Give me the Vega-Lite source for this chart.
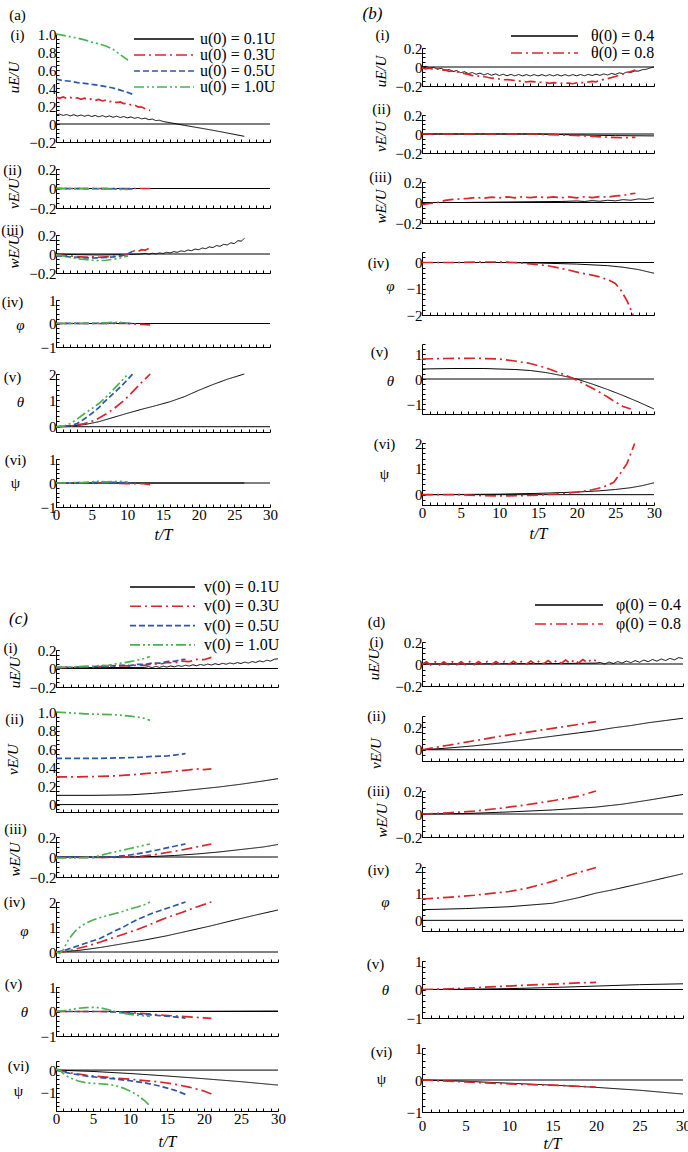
{
"$schema":"https://vega.github.io/schema/vega-lite/v6.json",
"padding":{"left":0,"top":4,"right":0,"bottom":0},
"config":{
 "font":"Liberation Serif",
 "view":{"stroke":null},
 "axis":{"grid":false,"domainColor":"black","tickColor":"black","labelColor":"black","titleColor":"black","labelFont":"Liberation Serif","titleFont":"Liberation Serif","labelFontSize":15,"titleFontSize":16,"titleFontWeight":"normal","tickSize":-3,"labelPadding":3,"labelFlush":false,"labelOverlap":false,"domainWidth":1,"tickWidth":1},
 "axisX":{"titleAngle":0,"titleAlign":"center","titleBaseline":"middle","titleFontStyle":"normal","titleFontSize":15},
 "axisY":{"titleAlign":"center","titleBaseline":"middle","titleFontStyle":"italic","titleFontSize":15},
 "legend":{"labelFont":"Liberation Serif","labelFontSize":16,"labelColor":"black","symbolType":"stroke","symbolStrokeWidth":1.6}
},
"datasets":{
"A":[
{"p":"i","s":"0.1U","t":0,"v":0.1},{"p":"i","s":"0.1U","t":0.5,"v":0.11},{"p":"i","s":"0.1U","t":1,"v":0.095},{"p":"i","s":"0.1U","t":1.5,"v":0.105},{"p":"i","s":"0.1U","t":2,"v":0.09},{"p":"i","s":"0.1U","t":2.5,"v":0.103},{"p":"i","s":"0.1U","t":3,"v":0.088},{"p":"i","s":"0.1U","t":3.5,"v":0.1},{"p":"i","s":"0.1U","t":4,"v":0.086},{"p":"i","s":"0.1U","t":4.5,"v":0.098},{"p":"i","s":"0.1U","t":5,"v":0.083},{"p":"i","s":"0.1U","t":5.5,"v":0.095},{"p":"i","s":"0.1U","t":6,"v":0.08},{"p":"i","s":"0.1U","t":6.5,"v":0.093},{"p":"i","s":"0.1U","t":7,"v":0.078},{"p":"i","s":"0.1U","t":7.5,"v":0.09},{"p":"i","s":"0.1U","t":8,"v":0.075},{"p":"i","s":"0.1U","t":8.5,"v":0.087},{"p":"i","s":"0.1U","t":9,"v":0.072},{"p":"i","s":"0.1U","t":9.5,"v":0.083},{"p":"i","s":"0.1U","t":10,"v":0.068},{"p":"i","s":"0.1U","t":10.5,"v":0.079},{"p":"i","s":"0.1U","t":11,"v":0.063},{"p":"i","s":"0.1U","t":11.5,"v":0.073},{"p":"i","s":"0.1U","t":12,"v":0.057},{"p":"i","s":"0.1U","t":12.5,"v":0.065},{"p":"i","s":"0.1U","t":13,"v":0.048},{"p":"i","s":"0.1U","t":13.5,"v":0.055},{"p":"i","s":"0.1U","t":14,"v":0.038},{"p":"i","s":"0.1U","t":14.5,"v":0.042},{"p":"i","s":"0.1U","t":15,"v":0.028},{"p":"i","s":"0.1U","t":16,"v":0.014},{"p":"i","s":"0.1U","t":17,"v":0},{"p":"i","s":"0.1U","t":18,"v":-0.015},{"p":"i","s":"0.1U","t":20,"v":-0.042},{"p":"i","s":"0.1U","t":22,"v":-0.07},{"p":"i","s":"0.1U","t":24,"v":-0.1},{"p":"i","s":"0.1U","t":26.4,"v":-0.137},
{"p":"i","s":"0.3U","t":0,"v":0.3},{"p":"i","s":"0.3U","t":0.5,"v":0.285},{"p":"i","s":"0.3U","t":1,"v":0.3},{"p":"i","s":"0.3U","t":1.5,"v":0.283},{"p":"i","s":"0.3U","t":2,"v":0.296},{"p":"i","s":"0.3U","t":2.5,"v":0.279},{"p":"i","s":"0.3U","t":3,"v":0.291},{"p":"i","s":"0.3U","t":3.5,"v":0.274},{"p":"i","s":"0.3U","t":4,"v":0.286},{"p":"i","s":"0.3U","t":4.5,"v":0.269},{"p":"i","s":"0.3U","t":5,"v":0.28},{"p":"i","s":"0.3U","t":5.5,"v":0.263},{"p":"i","s":"0.3U","t":6,"v":0.273},{"p":"i","s":"0.3U","t":6.5,"v":0.256},{"p":"i","s":"0.3U","t":7,"v":0.265},{"p":"i","s":"0.3U","t":7.5,"v":0.248},{"p":"i","s":"0.3U","t":8,"v":0.256},{"p":"i","s":"0.3U","t":8.5,"v":0.238},{"p":"i","s":"0.3U","t":9,"v":0.245},{"p":"i","s":"0.3U","t":9.5,"v":0.227},{"p":"i","s":"0.3U","t":10,"v":0.232},{"p":"i","s":"0.3U","t":10.5,"v":0.212},{"p":"i","s":"0.3U","t":11,"v":0.212},{"p":"i","s":"0.3U","t":11.5,"v":0.19},{"p":"i","s":"0.3U","t":12,"v":0.188},{"p":"i","s":"0.3U","t":12.5,"v":0.17},{"p":"i","s":"0.3U","t":13.2,"v":0.15},
{"p":"i","s":"0.5U","t":0,"v":0.5},{"p":"i","s":"0.5U","t":1,"v":0.482},{"p":"i","s":"0.5U","t":2,"v":0.475},{"p":"i","s":"0.5U","t":3,"v":0.46},{"p":"i","s":"0.5U","t":4,"v":0.452},{"p":"i","s":"0.5U","t":5,"v":0.44},{"p":"i","s":"0.5U","t":6,"v":0.43},{"p":"i","s":"0.5U","t":7,"v":0.415},{"p":"i","s":"0.5U","t":8,"v":0.4},{"p":"i","s":"0.5U","t":9,"v":0.377},{"p":"i","s":"0.5U","t":10,"v":0.352},{"p":"i","s":"0.5U","t":10.75,"v":0.33},
{"p":"i","s":"1.0U","t":0,"v":1},{"p":"i","s":"1.0U","t":1,"v":0.985},{"p":"i","s":"1.0U","t":2,"v":0.97},{"p":"i","s":"1.0U","t":3,"v":0.955},{"p":"i","s":"1.0U","t":4,"v":0.935},{"p":"i","s":"1.0U","t":5,"v":0.91},{"p":"i","s":"1.0U","t":6,"v":0.89},{"p":"i","s":"1.0U","t":7,"v":0.866},{"p":"i","s":"1.0U","t":8,"v":0.83},{"p":"i","s":"1.0U","t":9,"v":0.77},{"p":"i","s":"1.0U","t":10.1,"v":0.71},
{"p":"ii","s":"0.1U","t":0,"v":0},{"p":"ii","s":"0.1U","t":26.4,"v":0},
{"p":"ii","s":"0.3U","t":0,"v":0},{"p":"ii","s":"0.3U","t":13.2,"v":0},
{"p":"ii","s":"0.5U","t":0,"v":0},{"p":"ii","s":"0.5U","t":10.75,"v":-0.003},
{"p":"ii","s":"1.0U","t":0,"v":0},{"p":"ii","s":"1.0U","t":6,"v":-0.003},{"p":"ii","s":"1.0U","t":10.1,"v":-0.01},
{"p":"iii","s":"0.1U","t":0,"v":0},{"p":"iii","s":"0.1U","t":3,"v":-0.007},{"p":"iii","s":"0.1U","t":6,"v":-0.01},{"p":"iii","s":"0.1U","t":9,"v":-0.007},{"p":"iii","s":"0.1U","t":12,"v":0},{"p":"iii","s":"0.1U","t":12.5,"v":0.006},{"p":"iii","s":"0.1U","t":13,"v":-0.002},{"p":"iii","s":"0.1U","t":13.5,"v":0.008},{"p":"iii","s":"0.1U","t":14,"v":0.001},{"p":"iii","s":"0.1U","t":14.5,"v":0.012},{"p":"iii","s":"0.1U","t":15,"v":0.005},{"p":"iii","s":"0.1U","t":15.5,"v":0.018},{"p":"iii","s":"0.1U","t":16,"v":0.011},{"p":"iii","s":"0.1U","t":16.5,"v":0.025},{"p":"iii","s":"0.1U","t":17,"v":0.018},{"p":"iii","s":"0.1U","t":17.5,"v":0.033},{"p":"iii","s":"0.1U","t":18,"v":0.026},{"p":"iii","s":"0.1U","t":18.5,"v":0.042},{"p":"iii","s":"0.1U","t":19,"v":0.035},{"p":"iii","s":"0.1U","t":19.5,"v":0.052},{"p":"iii","s":"0.1U","t":20,"v":0.045},{"p":"iii","s":"0.1U","t":20.5,"v":0.063},{"p":"iii","s":"0.1U","t":21,"v":0.056},{"p":"iii","s":"0.1U","t":21.5,"v":0.075},{"p":"iii","s":"0.1U","t":22,"v":0.068},{"p":"iii","s":"0.1U","t":22.5,"v":0.088},{"p":"iii","s":"0.1U","t":23,"v":0.081},{"p":"iii","s":"0.1U","t":23.5,"v":0.102},{"p":"iii","s":"0.1U","t":24,"v":0.095},{"p":"iii","s":"0.1U","t":24.5,"v":0.117},{"p":"iii","s":"0.1U","t":25,"v":0.11},{"p":"iii","s":"0.1U","t":25.5,"v":0.14},{"p":"iii","s":"0.1U","t":26,"v":0.135},{"p":"iii","s":"0.1U","t":26.4,"v":0.165},
{"p":"iii","s":"0.3U","t":0,"v":-0.01},{"p":"iii","s":"0.3U","t":1,"v":-0.015},{"p":"iii","s":"0.3U","t":2,"v":-0.02},{"p":"iii","s":"0.3U","t":3,"v":-0.028},{"p":"iii","s":"0.3U","t":4,"v":-0.033},{"p":"iii","s":"0.3U","t":5,"v":-0.03},{"p":"iii","s":"0.3U","t":6,"v":-0.034},{"p":"iii","s":"0.3U","t":7,"v":-0.03},{"p":"iii","s":"0.3U","t":8,"v":-0.026},{"p":"iii","s":"0.3U","t":9,"v":-0.02},{"p":"iii","s":"0.3U","t":10,"v":-0.005},{"p":"iii","s":"0.3U","t":10.5,"v":0.01},{"p":"iii","s":"0.3U","t":11,"v":0.035},{"p":"iii","s":"0.3U","t":11.5,"v":0.025},{"p":"iii","s":"0.3U","t":12,"v":0.045},{"p":"iii","s":"0.3U","t":12.5,"v":0.04},{"p":"iii","s":"0.3U","t":13.2,"v":0.065},
{"p":"iii","s":"0.5U","t":0,"v":-0.02},{"p":"iii","s":"0.5U","t":1,"v":-0.022},{"p":"iii","s":"0.5U","t":2,"v":-0.03},{"p":"iii","s":"0.5U","t":3,"v":-0.036},{"p":"iii","s":"0.5U","t":4,"v":-0.04},{"p":"iii","s":"0.5U","t":5,"v":-0.042},{"p":"iii","s":"0.5U","t":6,"v":-0.04},{"p":"iii","s":"0.5U","t":7,"v":-0.037},{"p":"iii","s":"0.5U","t":8,"v":-0.03},{"p":"iii","s":"0.5U","t":9,"v":-0.02},{"p":"iii","s":"0.5U","t":10,"v":0},{"p":"iii","s":"0.5U","t":10.75,"v":0.03},
{"p":"iii","s":"1.0U","t":0,"v":-0.01},{"p":"iii","s":"1.0U","t":1,"v":-0.02},{"p":"iii","s":"1.0U","t":2,"v":-0.035},{"p":"iii","s":"1.0U","t":3,"v":-0.05},{"p":"iii","s":"1.0U","t":4,"v":-0.058},{"p":"iii","s":"1.0U","t":5,"v":-0.065},{"p":"iii","s":"1.0U","t":6,"v":-0.07},{"p":"iii","s":"1.0U","t":7,"v":-0.066},{"p":"iii","s":"1.0U","t":8,"v":-0.056},{"p":"iii","s":"1.0U","t":9,"v":-0.042},{"p":"iii","s":"1.0U","t":10.1,"v":-0.02},
{"p":"iv","s":"0.1U","t":0,"v":0},{"p":"iv","s":"0.1U","t":26.4,"v":0},
{"p":"iv","s":"0.3U","t":0,"v":0},{"p":"iv","s":"0.3U","t":10,"v":0},{"p":"iv","s":"0.3U","t":11,"v":-0.02},{"p":"iv","s":"0.3U","t":12,"v":-0.04},{"p":"iv","s":"0.3U","t":13.2,"v":-0.06},
{"p":"iv","s":"0.5U","t":0,"v":0},{"p":"iv","s":"0.5U","t":8,"v":0.01},{"p":"iv","s":"0.5U","t":9,"v":0.02},{"p":"iv","s":"0.5U","t":10.75,"v":0},
{"p":"iv","s":"1.0U","t":0,"v":0},{"p":"iv","s":"1.0U","t":5,"v":0.01},{"p":"iv","s":"1.0U","t":7,"v":0.03},{"p":"iv","s":"1.0U","t":8,"v":0.05},{"p":"iv","s":"1.0U","t":9,"v":0.05},{"p":"iv","s":"1.0U","t":10.1,"v":0.02},
{"p":"v","s":"0.1U","t":0,"v":0},{"p":"v","s":"0.1U","t":2,"v":0.02},{"p":"v","s":"0.1U","t":4,"v":0.08},{"p":"v","s":"0.1U","t":6,"v":0.19},{"p":"v","s":"0.1U","t":8,"v":0.35},{"p":"v","s":"0.1U","t":10,"v":0.51},{"p":"v","s":"0.1U","t":12,"v":0.66},{"p":"v","s":"0.1U","t":14,"v":0.8},{"p":"v","s":"0.1U","t":16,"v":0.95},{"p":"v","s":"0.1U","t":18,"v":1.14},{"p":"v","s":"0.1U","t":20,"v":1.38},{"p":"v","s":"0.1U","t":22,"v":1.6},{"p":"v","s":"0.1U","t":24,"v":1.8},{"p":"v","s":"0.1U","t":26.4,"v":2},
{"p":"v","s":"0.3U","t":0,"v":0},{"p":"v","s":"0.3U","t":2,"v":0.02},{"p":"v","s":"0.3U","t":4,"v":0.12},{"p":"v","s":"0.3U","t":5.5,"v":0.25},{"p":"v","s":"0.3U","t":7,"v":0.48},{"p":"v","s":"0.3U","t":8,"v":0.66},{"p":"v","s":"0.3U","t":9.2,"v":0.92},{"p":"v","s":"0.3U","t":10,"v":1.12},{"p":"v","s":"0.3U","t":11,"v":1.4},{"p":"v","s":"0.3U","t":12,"v":1.68},{"p":"v","s":"0.3U","t":13.2,"v":2},
{"p":"v","s":"0.5U","t":0,"v":0},{"p":"v","s":"0.5U","t":2,"v":0.04},{"p":"v","s":"0.5U","t":3,"v":0.12},{"p":"v","s":"0.5U","t":4,"v":0.3},{"p":"v","s":"0.5U","t":5,"v":0.5},{"p":"v","s":"0.5U","t":6,"v":0.72},{"p":"v","s":"0.5U","t":6.7,"v":0.92},{"p":"v","s":"0.5U","t":8,"v":1.25},{"p":"v","s":"0.5U","t":9,"v":1.5},{"p":"v","s":"0.5U","t":10,"v":1.78},{"p":"v","s":"0.5U","t":10.75,"v":2},
{"p":"v","s":"1.0U","t":0,"v":0},{"p":"v","s":"1.0U","t":1,"v":0.02},{"p":"v","s":"1.0U","t":2,"v":0.12},{"p":"v","s":"1.0U","t":3,"v":0.3},{"p":"v","s":"1.0U","t":4,"v":0.5},{"p":"v","s":"1.0U","t":5,"v":0.68},{"p":"v","s":"1.0U","t":6,"v":0.88},{"p":"v","s":"1.0U","t":7,"v":1.12},{"p":"v","s":"1.0U","t":8,"v":1.4},{"p":"v","s":"1.0U","t":9,"v":1.68},{"p":"v","s":"1.0U","t":10.1,"v":2},
{"p":"vi","s":"0.1U","t":0,"v":0},{"p":"vi","s":"0.1U","t":26.4,"v":0},
{"p":"vi","s":"0.3U","t":0,"v":0},{"p":"vi","s":"0.3U","t":5,"v":0},{"p":"vi","s":"0.3U","t":8,"v":-0.01},{"p":"vi","s":"0.3U","t":10,"v":-0.03},{"p":"vi","s":"0.3U","t":11,"v":-0.03},{"p":"vi","s":"0.3U","t":12,"v":-0.02},{"p":"vi","s":"0.3U","t":13.2,"v":-0.07},
{"p":"vi","s":"0.5U","t":0,"v":0},{"p":"vi","s":"0.5U","t":5,"v":0.02},{"p":"vi","s":"0.5U","t":8,"v":0.03},{"p":"vi","s":"0.5U","t":10,"v":0.01},{"p":"vi","s":"0.5U","t":10.75,"v":-0.02},
{"p":"vi","s":"1.0U","t":0,"v":0},{"p":"vi","s":"1.0U","t":4,"v":0.02},{"p":"vi","s":"1.0U","t":5,"v":0.05},{"p":"vi","s":"1.0U","t":6,"v":0.07},{"p":"vi","s":"1.0U","t":7,"v":0.05},{"p":"vi","s":"1.0U","t":8,"v":0.06},{"p":"vi","s":"1.0U","t":9,"v":0.07},{"p":"vi","s":"1.0U","t":10.1,"v":0.04}
],
"B":[
{"p":"i","s":"0.4","t":0,"v":0},{"p":"i","s":"0.4","t":0.5,"v":0.006},{"p":"i","s":"0.4","t":1,"v":-0.01},{"p":"i","s":"0.4","t":1.5,"v":-0.004},{"p":"i","s":"0.4","t":2,"v":-0.022},{"p":"i","s":"0.4","t":2.5,"v":-0.014},{"p":"i","s":"0.4","t":3,"v":-0.035},{"p":"i","s":"0.4","t":3.5,"v":-0.026},{"p":"i","s":"0.4","t":4,"v":-0.048},{"p":"i","s":"0.4","t":4.5,"v":-0.038},{"p":"i","s":"0.4","t":5,"v":-0.06},{"p":"i","s":"0.4","t":5.5,"v":-0.049},{"p":"i","s":"0.4","t":6,"v":-0.07},{"p":"i","s":"0.4","t":6.5,"v":-0.058},{"p":"i","s":"0.4","t":7,"v":-0.077},{"p":"i","s":"0.4","t":7.5,"v":-0.064},{"p":"i","s":"0.4","t":8,"v":-0.083},{"p":"i","s":"0.4","t":8.5,"v":-0.069},{"p":"i","s":"0.4","t":9,"v":-0.087},{"p":"i","s":"0.4","t":9.5,"v":-0.073},{"p":"i","s":"0.4","t":10,"v":-0.09},{"p":"i","s":"0.4","t":10.5,"v":-0.076},{"p":"i","s":"0.4","t":11,"v":-0.092},{"p":"i","s":"0.4","t":11.5,"v":-0.078},{"p":"i","s":"0.4","t":12,"v":-0.093},{"p":"i","s":"0.4","t":12.5,"v":-0.079},{"p":"i","s":"0.4","t":13,"v":-0.094},{"p":"i","s":"0.4","t":13.5,"v":-0.08},{"p":"i","s":"0.4","t":14,"v":-0.094},{"p":"i","s":"0.4","t":14.5,"v":-0.08},{"p":"i","s":"0.4","t":15,"v":-0.094},{"p":"i","s":"0.4","t":15.5,"v":-0.08},{"p":"i","s":"0.4","t":16,"v":-0.094},{"p":"i","s":"0.4","t":16.5,"v":-0.08},{"p":"i","s":"0.4","t":17,"v":-0.094},{"p":"i","s":"0.4","t":17.5,"v":-0.08},{"p":"i","s":"0.4","t":18,"v":-0.094},{"p":"i","s":"0.4","t":18.5,"v":-0.08},{"p":"i","s":"0.4","t":19,"v":-0.094},{"p":"i","s":"0.4","t":19.5,"v":-0.08},{"p":"i","s":"0.4","t":20,"v":-0.093},{"p":"i","s":"0.4","t":20.5,"v":-0.079},{"p":"i","s":"0.4","t":21,"v":-0.092},{"p":"i","s":"0.4","t":21.5,"v":-0.078},{"p":"i","s":"0.4","t":22,"v":-0.09},{"p":"i","s":"0.4","t":22.5,"v":-0.076},{"p":"i","s":"0.4","t":23,"v":-0.088},{"p":"i","s":"0.4","t":23.5,"v":-0.073},{"p":"i","s":"0.4","t":24,"v":-0.084},{"p":"i","s":"0.4","t":24.5,"v":-0.068},{"p":"i","s":"0.4","t":25,"v":-0.078},{"p":"i","s":"0.4","t":25.5,"v":-0.062},{"p":"i","s":"0.4","t":26,"v":-0.07},{"p":"i","s":"0.4","t":26.5,"v":-0.053},{"p":"i","s":"0.4","t":27,"v":-0.058},{"p":"i","s":"0.4","t":27.5,"v":-0.042},{"p":"i","s":"0.4","t":28,"v":-0.043},{"p":"i","s":"0.4","t":28.5,"v":-0.028},{"p":"i","s":"0.4","t":29,"v":-0.024},{"p":"i","s":"0.4","t":29.5,"v":-0.01},{"p":"i","s":"0.4","t":30,"v":0},
{"p":"i","s":"0.8","t":0,"v":-0.01},{"p":"i","s":"0.8","t":0.5,"v":-0.02},{"p":"i","s":"0.8","t":1,"v":-0.012},{"p":"i","s":"0.8","t":1.5,"v":-0.025},{"p":"i","s":"0.8","t":2,"v":-0.018},{"p":"i","s":"0.8","t":2.5,"v":-0.035},{"p":"i","s":"0.8","t":3,"v":-0.03},{"p":"i","s":"0.8","t":3.5,"v":-0.045},{"p":"i","s":"0.8","t":4,"v":-0.042},{"p":"i","s":"0.8","t":5,"v":-0.06},{"p":"i","s":"0.8","t":6,"v":-0.078},{"p":"i","s":"0.8","t":6.5,"v":-0.09},{"p":"i","s":"0.8","t":7,"v":-0.088},{"p":"i","s":"0.8","t":7.5,"v":-0.102},{"p":"i","s":"0.8","t":8,"v":-0.1},{"p":"i","s":"0.8","t":9,"v":-0.118},{"p":"i","s":"0.8","t":10,"v":-0.126},{"p":"i","s":"0.8","t":10.5,"v":-0.135},{"p":"i","s":"0.8","t":11,"v":-0.132},{"p":"i","s":"0.8","t":12,"v":-0.142},{"p":"i","s":"0.8","t":13,"v":-0.15},{"p":"i","s":"0.8","t":13.5,"v":-0.158},{"p":"i","s":"0.8","t":14,"v":-0.152},{"p":"i","s":"0.8","t":15,"v":-0.16},{"p":"i","s":"0.8","t":16,"v":-0.165},{"p":"i","s":"0.8","t":16.5,"v":-0.172},{"p":"i","s":"0.8","t":17,"v":-0.165},{"p":"i","s":"0.8","t":18,"v":-0.172},{"p":"i","s":"0.8","t":19,"v":-0.17},{"p":"i","s":"0.8","t":19.5,"v":-0.176},{"p":"i","s":"0.8","t":20,"v":-0.166},{"p":"i","s":"0.8","t":21,"v":-0.163},{"p":"i","s":"0.8","t":22,"v":-0.152},{"p":"i","s":"0.8","t":22.5,"v":-0.156},{"p":"i","s":"0.8","t":23,"v":-0.14},{"p":"i","s":"0.8","t":24,"v":-0.122},{"p":"i","s":"0.8","t":25,"v":-0.1},{"p":"i","s":"0.8","t":26,"v":-0.074},{"p":"i","s":"0.8","t":27,"v":-0.048},{"p":"i","s":"0.8","t":27.6,"v":-0.032},
{"p":"ii","s":"0.4","t":0,"v":0},{"p":"ii","s":"0.4","t":15,"v":0},{"p":"ii","s":"0.4","t":20,"v":-0.01},{"p":"ii","s":"0.4","t":25,"v":-0.017},{"p":"ii","s":"0.4","t":30,"v":-0.02},
{"p":"ii","s":"0.8","t":0,"v":0},{"p":"ii","s":"0.8","t":14,"v":0},{"p":"ii","s":"0.8","t":18,"v":-0.01},{"p":"ii","s":"0.8","t":21,"v":-0.02},{"p":"ii","s":"0.8","t":24,"v":-0.033},{"p":"ii","s":"0.8","t":26,"v":-0.04},{"p":"ii","s":"0.8","t":27.6,"v":-0.035},
{"p":"iii","s":"0.4","t":0,"v":0},{"p":"iii","s":"0.4","t":5,"v":0},{"p":"iii","s":"0.4","t":10,"v":0.004},{"p":"iii","s":"0.4","t":15,"v":0.008},{"p":"iii","s":"0.4","t":18,"v":0.01},{"p":"iii","s":"0.4","t":20,"v":0.015},{"p":"iii","s":"0.4","t":21,"v":0.01},{"p":"iii","s":"0.4","t":22,"v":0.018},{"p":"iii","s":"0.4","t":23,"v":0.012},{"p":"iii","s":"0.4","t":24,"v":0.022},{"p":"iii","s":"0.4","t":25,"v":0.016},{"p":"iii","s":"0.4","t":26,"v":0.028},{"p":"iii","s":"0.4","t":27,"v":0.022},{"p":"iii","s":"0.4","t":28,"v":0.035},{"p":"iii","s":"0.4","t":29,"v":0.03},{"p":"iii","s":"0.4","t":30,"v":0.045},
{"p":"iii","s":"0.8","t":0,"v":-0.02},{"p":"iii","s":"0.8","t":1,"v":-0.01},{"p":"iii","s":"0.8","t":2,"v":0},{"p":"iii","s":"0.8","t":3,"v":0.02},{"p":"iii","s":"0.8","t":4,"v":0.03},{"p":"iii","s":"0.8","t":5,"v":0.035},{"p":"iii","s":"0.8","t":6,"v":0.04},{"p":"iii","s":"0.8","t":7,"v":0.05},{"p":"iii","s":"0.8","t":8,"v":0.042},{"p":"iii","s":"0.8","t":9,"v":0.052},{"p":"iii","s":"0.8","t":10,"v":0.045},{"p":"iii","s":"0.8","t":11,"v":0.055},{"p":"iii","s":"0.8","t":12,"v":0.046},{"p":"iii","s":"0.8","t":13,"v":0.055},{"p":"iii","s":"0.8","t":14,"v":0.047},{"p":"iii","s":"0.8","t":15,"v":0.056},{"p":"iii","s":"0.8","t":16,"v":0.047},{"p":"iii","s":"0.8","t":17,"v":0.055},{"p":"iii","s":"0.8","t":18,"v":0.046},{"p":"iii","s":"0.8","t":19,"v":0.055},{"p":"iii","s":"0.8","t":20,"v":0.046},{"p":"iii","s":"0.8","t":21,"v":0.056},{"p":"iii","s":"0.8","t":22,"v":0.048},{"p":"iii","s":"0.8","t":23,"v":0.058},{"p":"iii","s":"0.8","t":24,"v":0.052},{"p":"iii","s":"0.8","t":25,"v":0.065},{"p":"iii","s":"0.8","t":26,"v":0.068},{"p":"iii","s":"0.8","t":27,"v":0.085},{"p":"iii","s":"0.8","t":27.6,"v":0.09},
{"p":"iv","s":"0.4","t":0,"v":0},{"p":"iv","s":"0.4","t":10,"v":0},{"p":"iv","s":"0.4","t":15,"v":-0.02},{"p":"iv","s":"0.4","t":20,"v":-0.06},{"p":"iv","s":"0.4","t":24,"v":-0.12},{"p":"iv","s":"0.4","t":26,"v":-0.18},{"p":"iv","s":"0.4","t":28,"v":-0.27},{"p":"iv","s":"0.4","t":30,"v":-0.41},
{"p":"iv","s":"0.8","t":0,"v":0},{"p":"iv","s":"0.8","t":5,"v":0},{"p":"iv","s":"0.8","t":8,"v":0.02},{"p":"iv","s":"0.8","t":10,"v":0.02},{"p":"iv","s":"0.8","t":12,"v":0},{"p":"iv","s":"0.8","t":14,"v":-0.05},{"p":"iv","s":"0.8","t":16.2,"v":-0.12},{"p":"iv","s":"0.8","t":18,"v":-0.22},{"p":"iv","s":"0.8","t":20.5,"v":-0.4},{"p":"iv","s":"0.8","t":22,"v":-0.48},{"p":"iv","s":"0.8","t":23.1,"v":-0.56},{"p":"iv","s":"0.8","t":24.2,"v":-0.68},{"p":"iv","s":"0.8","t":25,"v":-0.8},{"p":"iv","s":"0.8","t":25.7,"v":-1.05},{"p":"iv","s":"0.8","t":26.5,"v":-1.45},{"p":"iv","s":"0.8","t":27.3,"v":-2},
{"p":"v","s":"0.4","t":0,"v":0.4},{"p":"v","s":"0.4","t":4,"v":0.42},{"p":"v","s":"0.4","t":8,"v":0.42},{"p":"v","s":"0.4","t":12,"v":0.38},{"p":"v","s":"0.4","t":14,"v":0.34},{"p":"v","s":"0.4","t":16,"v":0.26},{"p":"v","s":"0.4","t":18,"v":0.14},{"p":"v","s":"0.4","t":20,"v":0},{"p":"v","s":"0.4","t":22,"v":-0.2},{"p":"v","s":"0.4","t":24,"v":-0.42},{"p":"v","s":"0.4","t":26,"v":-0.66},{"p":"v","s":"0.4","t":28,"v":-0.92},{"p":"v","s":"0.4","t":30,"v":-1.2},
{"p":"v","s":"0.8","t":0,"v":0.8},{"p":"v","s":"0.8","t":3,"v":0.82},{"p":"v","s":"0.8","t":7,"v":0.83},{"p":"v","s":"0.8","t":10,"v":0.8},{"p":"v","s":"0.8","t":12,"v":0.72},{"p":"v","s":"0.8","t":14,"v":0.62},{"p":"v","s":"0.8","t":16,"v":0.45},{"p":"v","s":"0.8","t":18,"v":0.22},{"p":"v","s":"0.8","t":19.5,"v":0.03},{"p":"v","s":"0.8","t":21,"v":-0.2},{"p":"v","s":"0.8","t":22.5,"v":-0.45},{"p":"v","s":"0.8","t":24,"v":-0.72},{"p":"v","s":"0.8","t":25,"v":-0.92},{"p":"v","s":"0.8","t":26,"v":-1.1},{"p":"v","s":"0.8","t":27,"v":-1.2},
{"p":"vi","s":"0.4","t":0,"v":0},{"p":"vi","s":"0.4","t":10,"v":0.02},{"p":"vi","s":"0.4","t":15,"v":0.05},{"p":"vi","s":"0.4","t":20,"v":0.1},{"p":"vi","s":"0.4","t":23,"v":0.15},{"p":"vi","s":"0.4","t":25,"v":0.2},{"p":"vi","s":"0.4","t":27,"v":0.27},{"p":"vi","s":"0.4","t":28.5,"v":0.35},{"p":"vi","s":"0.4","t":30,"v":0.46},
{"p":"vi","s":"0.8","t":0,"v":0},{"p":"vi","s":"0.8","t":5,"v":0},{"p":"vi","s":"0.8","t":8,"v":-0.04},{"p":"vi","s":"0.8","t":11,"v":-0.05},{"p":"vi","s":"0.8","t":14,"v":-0.03},{"p":"vi","s":"0.8","t":16,"v":0},{"p":"vi","s":"0.8","t":18,"v":0.04},{"p":"vi","s":"0.8","t":20,"v":0.1},{"p":"vi","s":"0.8","t":22,"v":0.19},{"p":"vi","s":"0.8","t":23.5,"v":0.3},{"p":"vi","s":"0.8","t":24.8,"v":0.48},{"p":"vi","s":"0.8","t":25.7,"v":0.85},{"p":"vi","s":"0.8","t":26.5,"v":1.2},{"p":"vi","s":"0.8","t":27.5,"v":1.98}
],
"C":[
{"p":"i","s":"0.1U","t":0,"v":0.01},{"p":"i","s":"0.1U","t":6,"v":0.01},{"p":"i","s":"0.1U","t":12,"v":0.012},{"p":"i","s":"0.1U","t":12.5,"v":0.02},{"p":"i","s":"0.1U","t":13,"v":0.01},{"p":"i","s":"0.1U","t":13.5,"v":0.022},{"p":"i","s":"0.1U","t":14,"v":0.012},{"p":"i","s":"0.1U","t":14.5,"v":0.025},{"p":"i","s":"0.1U","t":15,"v":0.015},{"p":"i","s":"0.1U","t":15.5,"v":0.028},{"p":"i","s":"0.1U","t":16,"v":0.018},{"p":"i","s":"0.1U","t":16.5,"v":0.032},{"p":"i","s":"0.1U","t":17,"v":0.022},{"p":"i","s":"0.1U","t":17.5,"v":0.036},{"p":"i","s":"0.1U","t":18,"v":0.026},{"p":"i","s":"0.1U","t":18.5,"v":0.04},{"p":"i","s":"0.1U","t":19,"v":0.03},{"p":"i","s":"0.1U","t":19.5,"v":0.044},{"p":"i","s":"0.1U","t":20,"v":0.034},{"p":"i","s":"0.1U","t":20.5,"v":0.048},{"p":"i","s":"0.1U","t":21,"v":0.038},{"p":"i","s":"0.1U","t":21.5,"v":0.052},{"p":"i","s":"0.1U","t":22,"v":0.042},{"p":"i","s":"0.1U","t":22.5,"v":0.056},{"p":"i","s":"0.1U","t":23,"v":0.046},{"p":"i","s":"0.1U","t":23.5,"v":0.06},{"p":"i","s":"0.1U","t":24,"v":0.05},{"p":"i","s":"0.1U","t":24.5,"v":0.064},{"p":"i","s":"0.1U","t":25,"v":0.054},{"p":"i","s":"0.1U","t":25.5,"v":0.069},{"p":"i","s":"0.1U","t":26,"v":0.059},{"p":"i","s":"0.1U","t":26.5,"v":0.075},{"p":"i","s":"0.1U","t":27,"v":0.065},{"p":"i","s":"0.1U","t":27.5,"v":0.082},{"p":"i","s":"0.1U","t":28,"v":0.072},{"p":"i","s":"0.1U","t":28.5,"v":0.09},{"p":"i","s":"0.1U","t":29,"v":0.08},{"p":"i","s":"0.1U","t":29.5,"v":0.1},{"p":"i","s":"0.1U","t":30,"v":0.105},
{"p":"i","s":"0.3U","t":0,"v":0.01},{"p":"i","s":"0.3U","t":2,"v":0.012},{"p":"i","s":"0.3U","t":4,"v":0.016},{"p":"i","s":"0.3U","t":6,"v":0.02},{"p":"i","s":"0.3U","t":8,"v":0.025},{"p":"i","s":"0.3U","t":9,"v":0.03},{"p":"i","s":"0.3U","t":10,"v":0.026},{"p":"i","s":"0.3U","t":11,"v":0.038},{"p":"i","s":"0.3U","t":12,"v":0.034},{"p":"i","s":"0.3U","t":13,"v":0.05},{"p":"i","s":"0.3U","t":14,"v":0.046},{"p":"i","s":"0.3U","t":15,"v":0.065},{"p":"i","s":"0.3U","t":16,"v":0.06},{"p":"i","s":"0.3U","t":17,"v":0.08},{"p":"i","s":"0.3U","t":18,"v":0.075},{"p":"i","s":"0.3U","t":19,"v":0.098},{"p":"i","s":"0.3U","t":20,"v":0.095},{"p":"i","s":"0.3U","t":21,"v":0.12},
{"p":"i","s":"0.5U","t":0,"v":0.01},{"p":"i","s":"0.5U","t":3,"v":0.015},{"p":"i","s":"0.5U","t":6,"v":0.024},{"p":"i","s":"0.5U","t":9,"v":0.035},{"p":"i","s":"0.5U","t":10,"v":0.032},{"p":"i","s":"0.5U","t":11,"v":0.046},{"p":"i","s":"0.5U","t":12,"v":0.044},{"p":"i","s":"0.5U","t":13,"v":0.06},{"p":"i","s":"0.5U","t":14,"v":0.058},{"p":"i","s":"0.5U","t":15,"v":0.075},{"p":"i","s":"0.5U","t":16,"v":0.078},{"p":"i","s":"0.5U","t":17,"v":0.095},{"p":"i","s":"0.5U","t":17.5,"v":0.1},
{"p":"i","s":"1.0U","t":0,"v":0.01},{"p":"i","s":"1.0U","t":2,"v":0.015},{"p":"i","s":"1.0U","t":4,"v":0.025},{"p":"i","s":"1.0U","t":5,"v":0.022},{"p":"i","s":"1.0U","t":6,"v":0.035},{"p":"i","s":"1.0U","t":7,"v":0.032},{"p":"i","s":"1.0U","t":8,"v":0.05},{"p":"i","s":"1.0U","t":9,"v":0.06},{"p":"i","s":"1.0U","t":10,"v":0.075},{"p":"i","s":"1.0U","t":11,"v":0.09},{"p":"i","s":"1.0U","t":12,"v":0.11},{"p":"i","s":"1.0U","t":12.7,"v":0.13},
{"p":"ii","s":"0.1U","t":0,"v":0.1},{"p":"ii","s":"0.1U","t":5,"v":0.1},{"p":"ii","s":"0.1U","t":10,"v":0.105},{"p":"ii","s":"0.1U","t":13,"v":0.12},{"p":"ii","s":"0.1U","t":16,"v":0.14},{"p":"ii","s":"0.1U","t":19,"v":0.165},{"p":"ii","s":"0.1U","t":22,"v":0.19},{"p":"ii","s":"0.1U","t":25,"v":0.22},{"p":"ii","s":"0.1U","t":28,"v":0.255},{"p":"ii","s":"0.1U","t":30,"v":0.28},
{"p":"ii","s":"0.3U","t":0,"v":0.3},{"p":"ii","s":"0.3U","t":3,"v":0.3},{"p":"ii","s":"0.3U","t":6,"v":0.305},{"p":"ii","s":"0.3U","t":8,"v":0.31},{"p":"ii","s":"0.3U","t":10,"v":0.32},{"p":"ii","s":"0.3U","t":12,"v":0.335},{"p":"ii","s":"0.3U","t":14,"v":0.345},{"p":"ii","s":"0.3U","t":16,"v":0.36},{"p":"ii","s":"0.3U","t":18,"v":0.375},{"p":"ii","s":"0.3U","t":19,"v":0.385},{"p":"ii","s":"0.3U","t":20,"v":0.378},{"p":"ii","s":"0.3U","t":21,"v":0.385},
{"p":"ii","s":"0.5U","t":0,"v":0.5},{"p":"ii","s":"0.5U","t":3,"v":0.5},{"p":"ii","s":"0.5U","t":6,"v":0.5},{"p":"ii","s":"0.5U","t":9,"v":0.505},{"p":"ii","s":"0.5U","t":11,"v":0.51},{"p":"ii","s":"0.5U","t":13,"v":0.52},{"p":"ii","s":"0.5U","t":15,"v":0.525},{"p":"ii","s":"0.5U","t":16,"v":0.535},{"p":"ii","s":"0.5U","t":17.5,"v":0.55},
{"p":"ii","s":"1.0U","t":0,"v":1},{"p":"ii","s":"1.0U","t":2,"v":0.99},{"p":"ii","s":"1.0U","t":4,"v":0.98},{"p":"ii","s":"1.0U","t":6,"v":0.975},{"p":"ii","s":"1.0U","t":8,"v":0.97},{"p":"ii","s":"1.0U","t":10,"v":0.955},{"p":"ii","s":"1.0U","t":11,"v":0.945},{"p":"ii","s":"1.0U","t":12,"v":0.93},{"p":"ii","s":"1.0U","t":12.7,"v":0.91},
{"p":"iii","s":"0.1U","t":0,"v":0},{"p":"iii","s":"0.1U","t":10,"v":0},{"p":"iii","s":"0.1U","t":13,"v":0.005},{"p":"iii","s":"0.1U","t":16,"v":0.015},{"p":"iii","s":"0.1U","t":19,"v":0.03},{"p":"iii","s":"0.1U","t":22,"v":0.05},{"p":"iii","s":"0.1U","t":25,"v":0.075},{"p":"iii","s":"0.1U","t":28,"v":0.1},{"p":"iii","s":"0.1U","t":30,"v":0.125},
{"p":"iii","s":"0.3U","t":0,"v":-0.005},{"p":"iii","s":"0.3U","t":8,"v":-0.005},{"p":"iii","s":"0.3U","t":11,"v":0.005},{"p":"iii","s":"0.3U","t":13,"v":0.02},{"p":"iii","s":"0.3U","t":15,"v":0.045},{"p":"iii","s":"0.3U","t":17,"v":0.07},{"p":"iii","s":"0.3U","t":19,"v":0.1},{"p":"iii","s":"0.3U","t":21,"v":0.13},
{"p":"iii","s":"0.5U","t":0,"v":0},{"p":"iii","s":"0.5U","t":6,"v":-0.005},{"p":"iii","s":"0.5U","t":8,"v":0.005},{"p":"iii","s":"0.5U","t":10,"v":0.02},{"p":"iii","s":"0.5U","t":12,"v":0.045},{"p":"iii","s":"0.5U","t":14,"v":0.075},{"p":"iii","s":"0.5U","t":15.5,"v":0.1},{"p":"iii","s":"0.5U","t":17.5,"v":0.13},
{"p":"iii","s":"1.0U","t":0,"v":-0.01},{"p":"iii","s":"1.0U","t":3,"v":-0.01},{"p":"iii","s":"1.0U","t":5,"v":0},{"p":"iii","s":"1.0U","t":6,"v":0.015},{"p":"iii","s":"1.0U","t":7,"v":0.035},{"p":"iii","s":"1.0U","t":8.5,"v":0.06},{"p":"iii","s":"1.0U","t":10,"v":0.085},{"p":"iii","s":"1.0U","t":11.5,"v":0.11},{"p":"iii","s":"1.0U","t":12.7,"v":0.13},
{"p":"iv","s":"0.1U","t":0,"v":0},{"p":"iv","s":"0.1U","t":3,"v":0.06},{"p":"iv","s":"0.1U","t":6,"v":0.18},{"p":"iv","s":"0.1U","t":9,"v":0.33},{"p":"iv","s":"0.1U","t":12,"v":0.48},{"p":"iv","s":"0.1U","t":15,"v":0.65},{"p":"iv","s":"0.1U","t":18,"v":0.85},{"p":"iv","s":"0.1U","t":21,"v":1.05},{"p":"iv","s":"0.1U","t":24,"v":1.27},{"p":"iv","s":"0.1U","t":27,"v":1.48},{"p":"iv","s":"0.1U","t":30,"v":1.68},
{"p":"iv","s":"0.3U","t":0,"v":0},{"p":"iv","s":"0.3U","t":1,"v":0},{"p":"iv","s":"0.3U","t":2,"v":0.07},{"p":"iv","s":"0.3U","t":4,"v":0.22},{"p":"iv","s":"0.3U","t":6,"v":0.4},{"p":"iv","s":"0.3U","t":8,"v":0.6},{"p":"iv","s":"0.3U","t":10,"v":0.8},{"p":"iv","s":"0.3U","t":11,"v":0.9},{"p":"iv","s":"0.3U","t":13,"v":1.14},{"p":"iv","s":"0.3U","t":15,"v":1.38},{"p":"iv","s":"0.3U","t":17,"v":1.58},{"p":"iv","s":"0.3U","t":19,"v":1.8},{"p":"iv","s":"0.3U","t":21,"v":2},
{"p":"iv","s":"0.5U","t":0,"v":0},{"p":"iv","s":"0.5U","t":1,"v":0.05},{"p":"iv","s":"0.5U","t":2,"v":0.15},{"p":"iv","s":"0.5U","t":3,"v":0.25},{"p":"iv","s":"0.5U","t":4,"v":0.35},{"p":"iv","s":"0.5U","t":5,"v":0.45},{"p":"iv","s":"0.5U","t":6,"v":0.55},{"p":"iv","s":"0.5U","t":7,"v":0.7},{"p":"iv","s":"0.5U","t":8,"v":0.85},{"p":"iv","s":"0.5U","t":9,"v":0.98},{"p":"iv","s":"0.5U","t":10,"v":1.15},{"p":"iv","s":"0.5U","t":11,"v":1.3},{"p":"iv","s":"0.5U","t":12,"v":1.42},{"p":"iv","s":"0.5U","t":13,"v":1.55},{"p":"iv","s":"0.5U","t":14,"v":1.65},{"p":"iv","s":"0.5U","t":15,"v":1.75},{"p":"iv","s":"0.5U","t":16,"v":1.85},{"p":"iv","s":"0.5U","t":17.5,"v":2},
{"p":"iv","s":"1.0U","t":0,"v":0},{"p":"iv","s":"1.0U","t":0.5,"v":-0.05},{"p":"iv","s":"1.0U","t":1,"v":0.1},{"p":"iv","s":"1.0U","t":1.5,"v":0.4},{"p":"iv","s":"1.0U","t":2,"v":0.62},{"p":"iv","s":"1.0U","t":2.5,"v":0.8},{"p":"iv","s":"1.0U","t":3,"v":0.95},{"p":"iv","s":"1.0U","t":4,"v":1.15},{"p":"iv","s":"1.0U","t":5,"v":1.28},{"p":"iv","s":"1.0U","t":6,"v":1.38},{"p":"iv","s":"1.0U","t":7,"v":1.46},{"p":"iv","s":"1.0U","t":8,"v":1.54},{"p":"iv","s":"1.0U","t":9,"v":1.62},{"p":"iv","s":"1.0U","t":10,"v":1.72},{"p":"iv","s":"1.0U","t":11,"v":1.8},{"p":"iv","s":"1.0U","t":12,"v":1.9},{"p":"iv","s":"1.0U","t":12.7,"v":2},
{"p":"v","s":"0.1U","t":0,"v":0},{"p":"v","s":"0.1U","t":10,"v":0},{"p":"v","s":"0.1U","t":20,"v":0.01},{"p":"v","s":"0.1U","t":30,"v":0.02},
{"p":"v","s":"0.3U","t":0,"v":0},{"p":"v","s":"0.3U","t":8,"v":0},{"p":"v","s":"0.3U","t":10,"v":-0.04},{"p":"v","s":"0.3U","t":12,"v":-0.09},{"p":"v","s":"0.3U","t":14,"v":-0.14},{"p":"v","s":"0.3U","t":16,"v":-0.18},{"p":"v","s":"0.3U","t":18,"v":-0.22},{"p":"v","s":"0.3U","t":20,"v":-0.26},{"p":"v","s":"0.3U","t":21,"v":-0.28},
{"p":"v","s":"0.5U","t":0,"v":0},{"p":"v","s":"0.5U","t":6,"v":0},{"p":"v","s":"0.5U","t":8,"v":-0.02},{"p":"v","s":"0.5U","t":10,"v":-0.07},{"p":"v","s":"0.5U","t":12,"v":-0.12},{"p":"v","s":"0.5U","t":14,"v":-0.17},{"p":"v","s":"0.5U","t":16,"v":-0.22},{"p":"v","s":"0.5U","t":17.5,"v":-0.27},
{"p":"v","s":"1.0U","t":0,"v":0},{"p":"v","s":"1.0U","t":1,"v":0.03},{"p":"v","s":"1.0U","t":2,"v":0.08},{"p":"v","s":"1.0U","t":3,"v":0.13},{"p":"v","s":"1.0U","t":4,"v":0.16},{"p":"v","s":"1.0U","t":5,"v":0.17},{"p":"v","s":"1.0U","t":6,"v":0.15},{"p":"v","s":"1.0U","t":7,"v":0.08},{"p":"v","s":"1.0U","t":8,"v":0},{"p":"v","s":"1.0U","t":9,"v":-0.07},{"p":"v","s":"1.0U","t":10,"v":-0.12},{"p":"v","s":"1.0U","t":11,"v":-0.15},{"p":"v","s":"1.0U","t":12,"v":-0.18},{"p":"v","s":"1.0U","t":12.7,"v":-0.2},
{"p":"vi","s":"0.1U","t":0,"v":0},{"p":"vi","s":"0.1U","t":5,"v":-0.06},{"p":"vi","s":"0.1U","t":10,"v":-0.15},{"p":"vi","s":"0.1U","t":15,"v":-0.26},{"p":"vi","s":"0.1U","t":20,"v":-0.38},{"p":"vi","s":"0.1U","t":25,"v":-0.51},{"p":"vi","s":"0.1U","t":30,"v":-0.66},
{"p":"vi","s":"0.3U","t":0,"v":0},{"p":"vi","s":"0.3U","t":1,"v":-0.05},{"p":"vi","s":"0.3U","t":2,"v":-0.12},{"p":"vi","s":"0.3U","t":4,"v":-0.22},{"p":"vi","s":"0.3U","t":6,"v":-0.29},{"p":"vi","s":"0.3U","t":8,"v":-0.35},{"p":"vi","s":"0.3U","t":10,"v":-0.4},{"p":"vi","s":"0.3U","t":12,"v":-0.46},{"p":"vi","s":"0.3U","t":14,"v":-0.52},{"p":"vi","s":"0.3U","t":16,"v":-0.62},{"p":"vi","s":"0.3U","t":18,"v":-0.75},{"p":"vi","s":"0.3U","t":20,"v":-0.92},{"p":"vi","s":"0.3U","t":21,"v":-1.05},
{"p":"vi","s":"0.5U","t":0,"v":0},{"p":"vi","s":"0.5U","t":1,"v":-0.08},{"p":"vi","s":"0.5U","t":2,"v":-0.15},{"p":"vi","s":"0.5U","t":4,"v":-0.26},{"p":"vi","s":"0.5U","t":6,"v":-0.33},{"p":"vi","s":"0.5U","t":8,"v":-0.39},{"p":"vi","s":"0.5U","t":10,"v":-0.47},{"p":"vi","s":"0.5U","t":12,"v":-0.56},{"p":"vi","s":"0.5U","t":14,"v":-0.7},{"p":"vi","s":"0.5U","t":16,"v":-0.88},{"p":"vi","s":"0.5U","t":17.5,"v":-1.07},
{"p":"vi","s":"1.0U","t":0,"v":0.05},{"p":"vi","s":"1.0U","t":0.5,"v":0},{"p":"vi","s":"1.0U","t":1,"v":-0.15},{"p":"vi","s":"1.0U","t":1.5,"v":-0.27},{"p":"vi","s":"1.0U","t":2,"v":-0.35},{"p":"vi","s":"1.0U","t":3,"v":-0.48},{"p":"vi","s":"1.0U","t":4,"v":-0.55},{"p":"vi","s":"1.0U","t":5,"v":-0.58},{"p":"vi","s":"1.0U","t":6,"v":-0.6},{"p":"vi","s":"1.0U","t":7,"v":-0.63},{"p":"vi","s":"1.0U","t":8,"v":-0.68},{"p":"vi","s":"1.0U","t":9,"v":-0.78},{"p":"vi","s":"1.0U","t":10,"v":-0.92},{"p":"vi","s":"1.0U","t":11,"v":-1.1},{"p":"vi","s":"1.0U","t":12,"v":-1.35},{"p":"vi","s":"1.0U","t":12.7,"v":-1.58}
],
"D":[
{"p":"i","s":"0.4","t":0,"v":0},{"p":"i","s":"0.4","t":5,"v":0},{"p":"i","s":"0.4","t":10,"v":0.002},{"p":"i","s":"0.4","t":15,"v":0.004},{"p":"i","s":"0.4","t":20,"v":0.008},{"p":"i","s":"0.4","t":20.5,"v":0.014},{"p":"i","s":"0.4","t":21,"v":0},{"p":"i","s":"0.4","t":21.5,"v":0.018},{"p":"i","s":"0.4","t":22,"v":0.004},{"p":"i","s":"0.4","t":22.5,"v":0.022},{"p":"i","s":"0.4","t":23,"v":0.008},{"p":"i","s":"0.4","t":23.5,"v":0.027},{"p":"i","s":"0.4","t":24,"v":0.012},{"p":"i","s":"0.4","t":24.5,"v":0.031},{"p":"i","s":"0.4","t":25,"v":0.016},{"p":"i","s":"0.4","t":25.5,"v":0.036},{"p":"i","s":"0.4","t":26,"v":0.021},{"p":"i","s":"0.4","t":26.5,"v":0.041},{"p":"i","s":"0.4","t":27,"v":0.026},{"p":"i","s":"0.4","t":27.5,"v":0.046},{"p":"i","s":"0.4","t":28,"v":0.031},{"p":"i","s":"0.4","t":28.5,"v":0.052},{"p":"i","s":"0.4","t":29,"v":0.037},{"p":"i","s":"0.4","t":29.5,"v":0.058},{"p":"i","s":"0.4","t":30,"v":0.05},
{"p":"i","s":"0.8","t":0,"v":-0.005},{"p":"i","s":"0.8","t":0.5,"v":0.02},{"p":"i","s":"0.8","t":1,"v":-0.008},{"p":"i","s":"0.8","t":1.5,"v":0.02},{"p":"i","s":"0.8","t":2,"v":-0.008},{"p":"i","s":"0.8","t":2.5,"v":0.02},{"p":"i","s":"0.8","t":3,"v":-0.007},{"p":"i","s":"0.8","t":3.5,"v":0.021},{"p":"i","s":"0.8","t":4,"v":-0.007},{"p":"i","s":"0.8","t":4.5,"v":0.021},{"p":"i","s":"0.8","t":5,"v":-0.006},{"p":"i","s":"0.8","t":5.5,"v":0.022},{"p":"i","s":"0.8","t":6,"v":-0.006},{"p":"i","s":"0.8","t":6.5,"v":0.022},{"p":"i","s":"0.8","t":7,"v":-0.005},{"p":"i","s":"0.8","t":7.5,"v":0.023},{"p":"i","s":"0.8","t":8,"v":-0.005},{"p":"i","s":"0.8","t":8.5,"v":0.023},{"p":"i","s":"0.8","t":9,"v":-0.004},{"p":"i","s":"0.8","t":9.5,"v":0.024},{"p":"i","s":"0.8","t":10,"v":-0.003},{"p":"i","s":"0.8","t":10.5,"v":0.025},{"p":"i","s":"0.8","t":11,"v":-0.002},{"p":"i","s":"0.8","t":11.5,"v":0.026},{"p":"i","s":"0.8","t":12,"v":-0.001},{"p":"i","s":"0.8","t":12.5,"v":0.027},{"p":"i","s":"0.8","t":13,"v":0},{"p":"i","s":"0.8","t":13.5,"v":0.029},{"p":"i","s":"0.8","t":14,"v":0.002},{"p":"i","s":"0.8","t":14.5,"v":0.031},{"p":"i","s":"0.8","t":15,"v":0.004},{"p":"i","s":"0.8","t":15.5,"v":0.033},{"p":"i","s":"0.8","t":16,"v":0.006},{"p":"i","s":"0.8","t":16.5,"v":0.035},{"p":"i","s":"0.8","t":17,"v":0.008},{"p":"i","s":"0.8","t":17.5,"v":0.037},{"p":"i","s":"0.8","t":18,"v":0.01},{"p":"i","s":"0.8","t":18.5,"v":0.04},{"p":"i","s":"0.8","t":19,"v":0.013},{"p":"i","s":"0.8","t":19.5,"v":0.043},{"p":"i","s":"0.8","t":20,"v":0.03},
{"p":"ii","s":"0.4","t":0,"v":0},{"p":"ii","s":"0.4","t":3,"v":0.015},{"p":"ii","s":"0.4","t":6,"v":0.035},{"p":"ii","s":"0.4","t":9,"v":0.06},{"p":"ii","s":"0.4","t":12,"v":0.09},{"p":"ii","s":"0.4","t":15,"v":0.12},{"p":"ii","s":"0.4","t":18,"v":0.15},{"p":"ii","s":"0.4","t":20,"v":0.17},{"p":"ii","s":"0.4","t":22,"v":0.195},{"p":"ii","s":"0.4","t":24,"v":0.215},{"p":"ii","s":"0.4","t":26,"v":0.24},{"p":"ii","s":"0.4","t":28,"v":0.26},{"p":"ii","s":"0.4","t":30,"v":0.28},
{"p":"ii","s":"0.8","t":0,"v":0},{"p":"ii","s":"0.8","t":3,"v":0.04},{"p":"ii","s":"0.8","t":6,"v":0.08},{"p":"ii","s":"0.8","t":9,"v":0.12},{"p":"ii","s":"0.8","t":12,"v":0.155},{"p":"ii","s":"0.8","t":15,"v":0.19},{"p":"ii","s":"0.8","t":18,"v":0.225},{"p":"ii","s":"0.8","t":20,"v":0.25},
{"p":"iii","s":"0.4","t":0,"v":0},{"p":"iii","s":"0.4","t":5,"v":0.004},{"p":"iii","s":"0.4","t":10,"v":0.018},{"p":"iii","s":"0.4","t":15,"v":0.035},{"p":"iii","s":"0.4","t":20,"v":0.06},{"p":"iii","s":"0.4","t":23,"v":0.085},{"p":"iii","s":"0.4","t":26,"v":0.12},{"p":"iii","s":"0.4","t":28,"v":0.145},{"p":"iii","s":"0.4","t":30,"v":0.17},
{"p":"iii","s":"0.8","t":0,"v":0},{"p":"iii","s":"0.8","t":3,"v":0.01},{"p":"iii","s":"0.8","t":6,"v":0.025},{"p":"iii","s":"0.8","t":9,"v":0.05},{"p":"iii","s":"0.8","t":12,"v":0.08},{"p":"iii","s":"0.8","t":15,"v":0.115},{"p":"iii","s":"0.8","t":18,"v":0.155},{"p":"iii","s":"0.8","t":20,"v":0.2},
{"p":"iv","s":"0.4","t":0,"v":0.4},{"p":"iv","s":"0.4","t":5,"v":0.44},{"p":"iv","s":"0.4","t":10,"v":0.51},{"p":"iv","s":"0.4","t":15,"v":0.64},{"p":"iv","s":"0.4","t":18,"v":0.85},{"p":"iv","s":"0.4","t":20,"v":1.02},{"p":"iv","s":"0.4","t":22,"v":1.15},{"p":"iv","s":"0.4","t":25,"v":1.37},{"p":"iv","s":"0.4","t":28,"v":1.6},{"p":"iv","s":"0.4","t":30,"v":1.75},
{"p":"iv","s":"0.8","t":0,"v":0.8},{"p":"iv","s":"0.8","t":3,"v":0.86},{"p":"iv","s":"0.8","t":6,"v":0.94},{"p":"iv","s":"0.8","t":10,"v":1.08},{"p":"iv","s":"0.8","t":12,"v":1.2},{"p":"iv","s":"0.8","t":15,"v":1.46},{"p":"iv","s":"0.8","t":17,"v":1.7},{"p":"iv","s":"0.8","t":20,"v":1.98},
{"p":"v","s":"0.4","t":0,"v":0},{"p":"v","s":"0.4","t":5,"v":0.01},{"p":"v","s":"0.4","t":10,"v":0.03},{"p":"v","s":"0.4","t":15,"v":0.07},{"p":"v","s":"0.4","t":20,"v":0.12},{"p":"v","s":"0.4","t":25,"v":0.17},{"p":"v","s":"0.4","t":30,"v":0.2},
{"p":"v","s":"0.8","t":0,"v":0},{"p":"v","s":"0.8","t":3,"v":0.02},{"p":"v","s":"0.8","t":6,"v":0.06},{"p":"v","s":"0.8","t":9,"v":0.11},{"p":"v","s":"0.8","t":12,"v":0.15},{"p":"v","s":"0.8","t":15,"v":0.19},{"p":"v","s":"0.8","t":18,"v":0.23},{"p":"v","s":"0.8","t":20,"v":0.25},
{"p":"vi","s":"0.4","t":0,"v":0},{"p":"vi","s":"0.4","t":5,"v":-0.04},{"p":"vi","s":"0.4","t":10,"v":-0.1},{"p":"vi","s":"0.4","t":15,"v":-0.16},{"p":"vi","s":"0.4","t":20,"v":-0.23},{"p":"vi","s":"0.4","t":25,"v":-0.32},{"p":"vi","s":"0.4","t":30,"v":-0.44},
{"p":"vi","s":"0.8","t":0,"v":0},{"p":"vi","s":"0.8","t":4,"v":-0.05},{"p":"vi","s":"0.8","t":8,"v":-0.1},{"p":"vi","s":"0.8","t":12,"v":-0.14},{"p":"vi","s":"0.8","t":16,"v":-0.17},{"p":"vi","s":"0.8","t":20,"v":-0.22}
]
},
"spacing":76,
"resolve":{"scale":{"color":"independent","strokeDash":"independent"},"legend":{"color":"independent","strokeDash":"independent"}},
"hconcat":[
{"spacing":37,"resolve":{"scale":{"color":"independent","strokeDash":"independent"},"legend":{"color":"independent","strokeDash":"independent"}},
"vconcat":[
{"spacing":27,"bounds":"flush","resolve":{"scale":{"color":"independent","strokeDash":"independent"},"legend":{"color":"independent","strokeDash":"independent"}},
"vconcat":[
{"width":214,"height":1,"data":{"values":[{}]},"mark":{"type":"rule","strokeOpacity":0},"encoding":{}},
{"width":214,"height":108,"resolve":{"axis":{"y":"independent"}},"layer":[{"data":{"values":[{}]},"mark":{"type":"rule","color":"black","strokeWidth":1},"encoding":{"y":{"datum":0,"type":"quantitative","axis":{"orient":"left","values":[-0.2,-0.15,-0.1,-0.05,0,0.05,0.1,0.15,0.2,0.25,0.3,0.35,0.4,0.45,0.5,0.55,0.6,0.65,0.7,0.75,0.8,0.85,0.9,0.95,1],"labels":false,"domain":false,"title":null}}}},
{"data":{"name":"A"},"transform":[{"filter":"datum.p=='i'"}],"mark":"line","encoding":{
"x":{"field":"t","type":"quantitative","scale":{"domain":[0,30],"nice":false},"axis":{"tickCount":30,"labels":false,"title":["(a)","(i)"],"titleLineHeight":20,"titleX":-39,"titleY":-128}},
"y":{"field":"v","type":"quantitative","scale":{"domain":[-0.2,1],"nice":false,"zero":false},"axis":{"orient":"left","values":[-0.2,0,0.2,0.4,0.6,0.8,1],"labelExpr":"abs(datum.value)<0.001?'0':format(datum.value,'.1f')","title":"uE/U","titleAngle":270,"titleX":-43,"titleY":43}},
"color":{"field":"s","type":"nominal","scale":{"domain":["0.1U","0.3U","0.5U","1.0U"],"range":["#000000","#d7262b","#2c56a6","#4bb04f"]},"legend":{"orient":"none","legendX":77,"legendY":-3,"clipHeight":16,"rowPadding":0,"title":null,"labelExpr":"'u(0) = '+datum.label","symbolSize":3600,"labelOffset":5}},
"strokeDash":{"field":"s","type":"nominal","scale":{"domain":["0.1U","0.3U","0.5U","1.0U"],"range":[[1,0],[11,4,2,4],[6,3],[10,3,2,3,2,3]]},"legend":{"orient":"none","legendX":77,"legendY":-3,"clipHeight":16,"rowPadding":0,"title":null,"labelExpr":"'u(0) = '+datum.label","symbolSize":3600,"labelOffset":5}},
"strokeWidth":{"condition":{"test":"datum.s=='0.1U'","value":1},"value":1.7}}}]},
{"width":214,"height":39,"resolve":{"axis":{"y":"independent"}},"layer":[{"data":{"values":[{}]},"mark":{"type":"rule","color":"black","strokeWidth":1},"encoding":{"y":{"datum":0,"type":"quantitative","axis":{"orient":"left","values":[-0.2,-0.15,-0.1,-0.05,0,0.05,0.1,0.15,0.2],"labels":false,"domain":false,"title":null}}}},
{"data":{"name":"A"},"transform":[{"filter":"datum.p=='ii'"}],"mark":"line","encoding":{
"x":{"field":"t","type":"quantitative","scale":{"domain":[0,30],"nice":false},"axis":{"tickCount":30,"labels":false,"title":"(ii)","titleX":-44,"titleY":-39}},
"y":{"field":"v","type":"quantitative","scale":{"domain":[-0.2,0.2],"nice":false,"zero":false},"axis":{"orient":"left","values":[-0.2,0,0.2],"labelExpr":"abs(datum.value)<0.001?'0':format(datum.value,'.1f')","title":"vE/U","titleAngle":270,"titleX":-43,"titleY":24}},
"color":{"field":"s","type":"nominal","scale":{"domain":["0.1U","0.3U","0.5U","1.0U"],"range":["#000000","#d7262b","#2c56a6","#4bb04f"]},"legend":null},
"strokeDash":{"field":"s","type":"nominal","scale":{"domain":["0.1U","0.3U","0.5U","1.0U"],"range":[[1,0],[11,4,2,4],[6,3],[10,3,2,3,2,3]]},"legend":null},
"strokeWidth":{"condition":{"test":"datum.s=='0.1U'","value":1},"value":1.7}}}]},
{"width":214,"height":38,"resolve":{"axis":{"y":"independent"}},"layer":[{"data":{"values":[{}]},"mark":{"type":"rule","color":"black","strokeWidth":1},"encoding":{"y":{"datum":0,"type":"quantitative","axis":{"orient":"left","values":[-0.2,-0.15,-0.1,-0.05,0,0.05,0.1,0.15,0.2],"labels":false,"domain":false,"title":null}}}},
{"data":{"name":"A"},"transform":[{"filter":"datum.p=='iii'"}],"mark":"line","encoding":{
"x":{"field":"t","type":"quantitative","scale":{"domain":[0,30],"nice":false},"axis":{"tickCount":30,"labels":false,"title":"(iii)","titleX":-44,"titleY":-44}},
"y":{"field":"v","type":"quantitative","scale":{"domain":[-0.2,0.2],"nice":false,"zero":false},"axis":{"orient":"left","values":[-0.2,0,0.2],"labelExpr":"abs(datum.value)<0.001?'0':format(datum.value,'.1f')","title":"wE/U","titleAngle":270,"titleX":-43,"titleY":16}},
"color":{"field":"s","type":"nominal","scale":{"domain":["0.1U","0.3U","0.5U","1.0U"],"range":["#000000","#d7262b","#2c56a6","#4bb04f"]},"legend":null},
"strokeDash":{"field":"s","type":"nominal","scale":{"domain":["0.1U","0.3U","0.5U","1.0U"],"range":[[1,0],[11,4,2,4],[6,3],[10,3,2,3,2,3]]},"legend":null},
"strokeWidth":{"condition":{"test":"datum.s=='0.1U'","value":1},"value":1.7}}}]},
{"width":214,"height":47,"resolve":{"axis":{"y":"independent"}},"layer":[{"data":{"values":[{}]},"mark":{"type":"rule","color":"black","strokeWidth":1},"encoding":{"y":{"datum":0,"type":"quantitative","axis":{"orient":"left","values":[-1,-0.8,-0.6,-0.4,-0.2,0,0.2,0.4,0.6,0.8,1],"labels":false,"domain":false,"title":null}}}},
{"data":{"name":"A"},"transform":[{"filter":"datum.p=='iv'"}],"mark":"line","encoding":{
"x":{"field":"t","type":"quantitative","scale":{"domain":[0,30],"nice":false},"axis":{"tickCount":30,"labels":false,"title":"(iv)","titleX":-44,"titleY":-46}},
"y":{"field":"v","type":"quantitative","scale":{"domain":[-1,1],"nice":false,"zero":false},"axis":{"orient":"left","values":[-1,0,1],"labelExpr":"abs(datum.value)<0.001?'0':format(datum.value,'d')","title":"φ","titleAngle":0,"titleX":-36,"titleY":24}},
"color":{"field":"s","type":"nominal","scale":{"domain":["0.1U","0.3U","0.5U","1.0U"],"range":["#000000","#d7262b","#2c56a6","#4bb04f"]},"legend":null},
"strokeDash":{"field":"s","type":"nominal","scale":{"domain":["0.1U","0.3U","0.5U","1.0U"],"range":[[1,0],[11,4,2,4],[6,3],[10,3,2,3,2,3]]},"legend":null},
"strokeWidth":{"condition":{"test":"datum.s=='0.1U'","value":1},"value":1.7}}}]},
{"width":214,"height":58,"resolve":{"axis":{"y":"independent"}},"layer":[{"data":{"values":[{}]},"mark":{"type":"rule","color":"black","strokeWidth":1},"encoding":{"y":{"datum":0,"type":"quantitative","axis":{"orient":"left","values":[-0.2,0,0.2,0.4,0.6,0.8,1,1.2,1.4,1.6,1.8,2],"labels":false,"domain":false,"title":null}}}},
{"data":{"name":"A"},"transform":[{"filter":"datum.p=='v'"}],"mark":"line","encoding":{
"x":{"field":"t","type":"quantitative","scale":{"domain":[0,30],"nice":false},"axis":{"tickCount":30,"labels":false,"title":"(v)","titleX":-44,"titleY":-56}},
"y":{"field":"v","type":"quantitative","scale":{"domain":[-0.2,2],"nice":false,"zero":false},"axis":{"orient":"left","values":[0,1,2],"labelExpr":"abs(datum.value)<0.001?'0':format(datum.value,'d')","title":"θ","titleAngle":0,"titleX":-36,"titleY":27}},
"color":{"field":"s","type":"nominal","scale":{"domain":["0.1U","0.3U","0.5U","1.0U"],"range":["#000000","#d7262b","#2c56a6","#4bb04f"]},"legend":null},
"strokeDash":{"field":"s","type":"nominal","scale":{"domain":["0.1U","0.3U","0.5U","1.0U"],"range":[[1,0],[11,4,2,4],[6,3],[10,3,2,3,2,3]]},"legend":null},
"strokeWidth":{"condition":{"test":"datum.s=='0.1U'","value":1},"value":1.7}}}]},
{"width":214,"height":48,"resolve":{"axis":{"y":"independent"}},"layer":[{"data":{"values":[{}]},"mark":{"type":"rule","color":"black","strokeWidth":1},"encoding":{"y":{"datum":0,"type":"quantitative","axis":{"orient":"left","values":[-1,-0.8,-0.6,-0.4,-0.2,0,0.2,0.4,0.6,0.8,1],"labels":false,"domain":false,"title":null}}}},
{"data":{"name":"A"},"transform":[{"filter":"datum.p=='vi'"}],"mark":"line","encoding":{
"x":{"field":"t","type":"quantitative","scale":{"domain":[0,30],"nice":false},"axis":{"tickCount":30,"labelExpr":"datum.value % 5 == 0 ? datum.label : ''","title":"t/T","titleX":107,"titleY":27,"titleFontStyle":"italic","titleFontSize":16}},
"y":{"field":"v","type":"quantitative","scale":{"domain":[-1,1],"nice":false,"zero":false},"axis":{"orient":"left","values":[-1,0,1],"labelExpr":"abs(datum.value)<0.001?'0':format(datum.value,'d')","title":["(vi)","ψ"],"titleAngle":0,"titleX":-41,"titleY":0,"titleLineHeight":23,"titleFontStyle":"normal"}},
"color":{"field":"s","type":"nominal","scale":{"domain":["0.1U","0.3U","0.5U","1.0U"],"range":["#000000","#d7262b","#2c56a6","#4bb04f"]},"legend":null},
"strokeDash":{"field":"s","type":"nominal","scale":{"domain":["0.1U","0.3U","0.5U","1.0U"],"range":[[1,0],[11,4,2,4],[6,3],[10,3,2,3,2,3]]},"legend":null},
"strokeWidth":{"condition":{"test":"datum.s=='0.1U'","value":1},"value":1.7}}}]}
]},
{"spacing":25,"bounds":"flush","resolve":{"scale":{"color":"independent","strokeDash":"independent"},"legend":{"color":"independent","strokeDash":"independent"}},
"vconcat":[
{"width":222,"height":37,"resolve":{"axis":{"y":"independent"}},"layer":[{"data":{"values":[{}]},"mark":{"type":"rule","color":"black","strokeWidth":1},"encoding":{"y":{"datum":0,"type":"quantitative","axis":{"orient":"left","values":[-0.2,-0.15,-0.1,-0.05,0,0.05,0.1,0.15,0.2],"labels":false,"domain":false,"title":"(c)","titleAngle":0,"titleX":-38,"titleY":-32,"titleFontStyle":"italic","titleFontSize":17}}}},
{"data":{"name":"C"},"transform":[{"filter":"datum.p=='i'"}],"mark":"line","encoding":{
"x":{"field":"t","type":"quantitative","scale":{"domain":[0,30],"nice":false},"axis":{"tickCount":30,"labels":false,"title":"(i)","titleX":-46,"titleY":-40}},
"y":{"field":"v","type":"quantitative","scale":{"domain":[-0.2,0.2],"nice":false,"zero":false},"axis":{"orient":"left","values":[-0.2,0,0.2],"labelExpr":"abs(datum.value)<0.001?'0':format(datum.value,'.1f')","title":"uE/U","titleAngle":270,"titleX":-42,"titleY":22}},
"color":{"field":"s","type":"nominal","scale":{"domain":["0.1U","0.3U","0.5U","1.0U"],"range":["#000000","#d7262b","#2c56a6","#4bb04f"]},"legend":{"orient":"none","legendX":73,"legendY":-70.5,"clipHeight":15,"rowPadding":2.3,"title":null,"labelExpr":"'v(0) = '+datum.label","symbolSize":4225,"labelOffset":8}},
"strokeDash":{"field":"s","type":"nominal","scale":{"domain":["0.1U","0.3U","0.5U","1.0U"],"range":[[1,0],[11,4,2,4],[6,3],[10,3,2,3,2,3]]},"legend":{"orient":"none","legendX":73,"legendY":-70.5,"clipHeight":15,"rowPadding":2.3,"title":null,"labelExpr":"'v(0) = '+datum.label","symbolSize":4225,"labelOffset":8}},
"strokeWidth":{"condition":{"test":"datum.s=='0.1U'","value":1},"value":1.7}}}]},
{"width":222,"height":100,"resolve":{"axis":{"y":"independent"}},"layer":[{"data":{"values":[{}]},"mark":{"type":"rule","color":"black","strokeWidth":1},"encoding":{"y":{"datum":0,"type":"quantitative","axis":{"orient":"left","values":[-0.05,0,0.05,0.1,0.15,0.2,0.25,0.3,0.35,0.4,0.45,0.5,0.55,0.6,0.65,0.7,0.75,0.8,0.85,0.9,0.95,1],"labels":false,"domain":false,"title":null}}}},
{"data":{"name":"C"},"transform":[{"filter":"datum.p=='ii'"}],"mark":"line","encoding":{
"x":{"field":"t","type":"quantitative","scale":{"domain":[0,30],"nice":false},"axis":{"tickCount":30,"labels":false,"title":"(ii)","titleX":-42,"titleY":-94}},
"y":{"field":"v","type":"quantitative","scale":{"domain":[-0.08,1],"nice":false,"zero":false},"axis":{"orient":"left","values":[0,0.2,0.4,0.6,0.8,1],"labelExpr":"abs(datum.value)<0.001?'0':format(datum.value,'.1f')","title":"vE/U","titleAngle":270,"titleX":-44,"titleY":47}},
"color":{"field":"s","type":"nominal","scale":{"domain":["0.1U","0.3U","0.5U","1.0U"],"range":["#000000","#d7262b","#2c56a6","#4bb04f"]},"legend":null},
"strokeDash":{"field":"s","type":"nominal","scale":{"domain":["0.1U","0.3U","0.5U","1.0U"],"range":[[1,0],[11,4,2,4],[6,3],[10,3,2,3,2,3]]},"legend":null},
"strokeWidth":{"condition":{"test":"datum.s=='0.1U'","value":1},"value":1.7}}}]},
{"width":222,"height":40,"resolve":{"axis":{"y":"independent"}},"layer":[{"data":{"values":[{}]},"mark":{"type":"rule","color":"black","strokeWidth":1},"encoding":{"y":{"datum":0,"type":"quantitative","axis":{"orient":"left","values":[-0.2,-0.15,-0.1,-0.05,0,0.05,0.1,0.15,0.2],"labels":false,"domain":false,"title":null}}}},
{"data":{"name":"C"},"transform":[{"filter":"datum.p=='iii'"}],"mark":"line","encoding":{
"x":{"field":"t","type":"quantitative","scale":{"domain":[0,30],"nice":false},"axis":{"tickCount":30,"labels":false,"title":"(iii)","titleX":-41,"titleY":-49}},
"y":{"field":"v","type":"quantitative","scale":{"domain":[-0.2,0.2],"nice":false,"zero":false},"axis":{"orient":"left","values":[-0.2,0,0.2],"labelExpr":"abs(datum.value)<0.001?'0':format(datum.value,'.1f')","title":"wE/U","titleAngle":270,"titleX":-42,"titleY":22}},
"color":{"field":"s","type":"nominal","scale":{"domain":["0.1U","0.3U","0.5U","1.0U"],"range":["#000000","#d7262b","#2c56a6","#4bb04f"]},"legend":null},
"strokeDash":{"field":"s","type":"nominal","scale":{"domain":["0.1U","0.3U","0.5U","1.0U"],"range":[[1,0],[11,4,2,4],[6,3],[10,3,2,3,2,3]]},"legend":null},
"strokeWidth":{"condition":{"test":"datum.s=='0.1U'","value":1},"value":1.7}}}]},
{"width":222,"height":60,"resolve":{"axis":{"y":"independent"}},"layer":[{"data":{"values":[{}]},"mark":{"type":"rule","color":"black","strokeWidth":1},"encoding":{"y":{"datum":0,"type":"quantitative","axis":{"orient":"left","values":[-0.4,-0.2,0,0.2,0.4,0.6,0.8,1,1.2,1.4,1.6,1.8,2],"labels":false,"domain":false,"title":null}}}},
{"data":{"name":"C"},"transform":[{"filter":"datum.p=='iv'"}],"mark":"line","encoding":{
"x":{"field":"t","type":"quantitative","scale":{"domain":[0,30],"nice":false},"axis":{"tickCount":30,"labels":false,"title":"(iv)","titleX":-42,"titleY":-61}},
"y":{"field":"v","type":"quantitative","scale":{"domain":[-0.4,2],"nice":false,"zero":false},"axis":{"orient":"left","values":[0,1,2],"labelExpr":"abs(datum.value)<0.001?'0':format(datum.value,'d')","title":"φ","titleAngle":0,"titleX":-32,"titleY":28}},
"color":{"field":"s","type":"nominal","scale":{"domain":["0.1U","0.3U","0.5U","1.0U"],"range":["#000000","#d7262b","#2c56a6","#4bb04f"]},"legend":null},
"strokeDash":{"field":"s","type":"nominal","scale":{"domain":["0.1U","0.3U","0.5U","1.0U"],"range":[[1,0],[11,4,2,4],[6,3],[10,3,2,3,2,3]]},"legend":null},
"strokeWidth":{"condition":{"test":"datum.s=='0.1U'","value":1},"value":1.7}}}]},
{"width":222,"height":49,"resolve":{"axis":{"y":"independent"}},"layer":[{"data":{"values":[{}]},"mark":{"type":"rule","color":"black","strokeWidth":1},"encoding":{"y":{"datum":0,"type":"quantitative","axis":{"orient":"left","values":[-1,-0.8,-0.6,-0.4,-0.2,0,0.2,0.4,0.6,0.8,1],"labels":false,"domain":false,"title":null}}}},
{"data":{"name":"C"},"transform":[{"filter":"datum.p=='v'"}],"mark":"line","encoding":{
"x":{"field":"t","type":"quantitative","scale":{"domain":[0,30],"nice":false},"axis":{"tickCount":30,"labels":false,"title":"(v)","titleX":-43,"titleY":-53}},
"y":{"field":"v","type":"quantitative","scale":{"domain":[-1,1],"nice":false,"zero":false},"axis":{"orient":"left","values":[-1,0,1],"labelExpr":"abs(datum.value)<0.001?'0':format(datum.value,'d')","title":"θ","titleAngle":0,"titleX":-32,"titleY":24}},
"color":{"field":"s","type":"nominal","scale":{"domain":["0.1U","0.3U","0.5U","1.0U"],"range":["#000000","#d7262b","#2c56a6","#4bb04f"]},"legend":null},
"strokeDash":{"field":"s","type":"nominal","scale":{"domain":["0.1U","0.3U","0.5U","1.0U"],"range":[[1,0],[11,4,2,4],[6,3],[10,3,2,3,2,3]]},"legend":null},
"strokeWidth":{"condition":{"test":"datum.s=='0.1U'","value":1},"value":1.7}}}]},
{"width":222,"height":50,"resolve":{"axis":{"y":"independent"}},"layer":[{"data":{"values":[{}]},"mark":{"type":"rule","color":"black","strokeWidth":1},"encoding":{"y":{"datum":0,"type":"quantitative","axis":{"orient":"left","values":[-1.8,-1.6,-1.4,-1.2,-1,-0.8,-0.6,-0.4,-0.2,0,0.2,0.4],"labels":false,"domain":false,"title":null}}}},
{"data":{"name":"C"},"transform":[{"filter":"datum.p=='vi'"}],"mark":"line","encoding":{
"x":{"field":"t","type":"quantitative","scale":{"domain":[0,30],"nice":false},"axis":{"tickCount":30,"labelExpr":"datum.value % 5 == 0 ? datum.label : ''","title":"t/T","titleX":111,"titleY":30,"titleFontStyle":"italic","titleFontSize":16}},
"y":{"field":"v","type":"quantitative","scale":{"domain":[-1.8,0.4],"nice":false,"zero":false},"axis":{"orient":"left","values":[-1,0],"labelExpr":"abs(datum.value)<0.001?'0':format(datum.value,'d')","title":["(vi)","ψ"],"titleAngle":0,"titleX":-38,"titleY":4,"titleLineHeight":25,"titleFontStyle":"normal"}},
"color":{"field":"s","type":"nominal","scale":{"domain":["0.1U","0.3U","0.5U","1.0U"],"range":["#000000","#d7262b","#2c56a6","#4bb04f"]},"legend":null},
"strokeDash":{"field":"s","type":"nominal","scale":{"domain":["0.1U","0.3U","0.5U","1.0U"],"range":[[1,0],[11,4,2,4],[6,3],[10,3,2,3,2,3]]},"legend":null},
"strokeWidth":{"condition":{"test":"datum.s=='0.1U'","value":1},"value":1.7}}}]}
]}
]},
{"spacing":55,"resolve":{"scale":{"color":"independent","strokeDash":"independent"},"legend":{"color":"independent","strokeDash":"independent"}},
"vconcat":[
{"spacing":29,"bounds":"flush","resolve":{"scale":{"color":"independent","strokeDash":"independent"},"legend":{"color":"independent","strokeDash":"independent"}},
"vconcat":[
{"width":232,"height":13,"data":{"values":[{}]},"mark":{"type":"rule","strokeOpacity":0},"encoding":{}},
{"width":232,"height":38,"resolve":{"axis":{"y":"independent"}},"layer":[{"data":{"values":[{}]},"mark":{"type":"rule","color":"black","strokeWidth":1},"encoding":{"y":{"datum":0,"type":"quantitative","axis":{"orient":"left","values":[-0.2,-0.15,-0.1,-0.05,0,0.05,0.1,0.15,0.2],"labels":false,"domain":false,"title":"(b)","titleAngle":0,"titleX":-50,"titleY":-35,"titleFontStyle":"italic","titleFontSize":17}}}},
{"data":{"name":"B"},"transform":[{"filter":"datum.p=='i'"}],"mark":"line","encoding":{
"x":{"field":"t","type":"quantitative","scale":{"domain":[0,30],"nice":false},"axis":{"tickCount":30,"labels":false,"title":"(i)","titleX":-40,"titleY":-52}},
"y":{"field":"v","type":"quantitative","scale":{"domain":[-0.2,0.2],"nice":false,"zero":false},"axis":{"orient":"left","values":[-0.2,0,0.2],"labelExpr":"abs(datum.value)<0.001?'0':format(datum.value,'.1f')","title":"uE/U","titleAngle":270,"titleX":-42,"titleY":23}},
"color":{"field":"s","type":"nominal","scale":{"domain":["0.4","0.8"],"range":["#000000","#d7262b"]},"legend":{"orient":"none","legendX":88,"legendY":-19.5,"clipHeight":15,"rowPadding":0,"title":null,"labelExpr":"'θ(0) = '+datum.label","symbolSize":4489,"labelOffset":12}},
"strokeDash":{"field":"s","type":"nominal","scale":{"domain":["0.4","0.8"],"range":[[1,0],[11,4,2,4]]},"legend":{"orient":"none","legendX":88,"legendY":-19.5,"clipHeight":15,"rowPadding":0,"title":null,"labelExpr":"'θ(0) = '+datum.label","symbolSize":4489,"labelOffset":12}},
"strokeWidth":{"condition":{"test":"datum.s=='0.4'","value":1},"value":1.7}}}]},
{"width":232,"height":38,"resolve":{"axis":{"y":"independent"}},"layer":[{"data":{"values":[{}]},"mark":{"type":"rule","color":"black","strokeWidth":1},"encoding":{"y":{"datum":0,"type":"quantitative","axis":{"orient":"left","values":[-0.2,-0.15,-0.1,-0.05,0,0.05,0.1,0.15,0.2],"labels":false,"domain":false,"title":null}}}},
{"data":{"name":"B"},"transform":[{"filter":"datum.p=='ii'"}],"mark":"line","encoding":{
"x":{"field":"t","type":"quantitative","scale":{"domain":[0,30],"nice":false},"axis":{"tickCount":30,"labels":false,"title":"(ii)","titleX":-41,"titleY":-45}},
"y":{"field":"v","type":"quantitative","scale":{"domain":[-0.2,0.2],"nice":false,"zero":false},"axis":{"orient":"left","values":[-0.2,0,0.2],"labelExpr":"abs(datum.value)<0.001?'0':format(datum.value,'.1f')","title":"vE/U","titleAngle":270,"titleX":-42,"titleY":21}},
"color":{"field":"s","type":"nominal","scale":{"domain":["0.4","0.8"],"range":["#000000","#d7262b"]},"legend":null},
"strokeDash":{"field":"s","type":"nominal","scale":{"domain":["0.4","0.8"],"range":[[1,0],[11,4,2,4]]},"legend":null},
"strokeWidth":{"condition":{"test":"datum.s=='0.4'","value":1},"value":1.7}}}]},
{"width":232,"height":41,"resolve":{"axis":{"y":"independent"}},"layer":[{"data":{"values":[{}]},"mark":{"type":"rule","color":"black","strokeWidth":1},"encoding":{"y":{"datum":0,"type":"quantitative","axis":{"orient":"left","values":[-0.2,-0.15,-0.1,-0.05,0,0.05,0.1,0.15,0.2],"labels":false,"domain":false,"title":null}}}},
{"data":{"name":"B"},"transform":[{"filter":"datum.p=='iii'"}],"mark":"line","encoding":{
"x":{"field":"t","type":"quantitative","scale":{"domain":[0,30],"nice":false},"axis":{"tickCount":30,"labels":false,"title":"(iii)","titleX":-42,"titleY":-47}},
"y":{"field":"v","type":"quantitative","scale":{"domain":[-0.2,0.2],"nice":false,"zero":false},"axis":{"orient":"left","values":[-0.2,0,0.2],"labelExpr":"abs(datum.value)<0.001?'0':format(datum.value,'.1f')","title":"wE/U","titleAngle":270,"titleX":-42,"titleY":24}},
"color":{"field":"s","type":"nominal","scale":{"domain":["0.4","0.8"],"range":["#000000","#d7262b"]},"legend":null},
"strokeDash":{"field":"s","type":"nominal","scale":{"domain":["0.4","0.8"],"range":[[1,0],[11,4,2,4]]},"legend":null},
"strokeWidth":{"condition":{"test":"datum.s=='0.4'","value":1},"value":1.7}}}]},
{"width":232,"height":63,"resolve":{"axis":{"y":"independent"}},"layer":[{"data":{"values":[{}]},"mark":{"type":"rule","color":"black","strokeWidth":1},"encoding":{"y":{"datum":0,"type":"quantitative","axis":{"orient":"left","values":[-2,-1.8,-1.6,-1.4,-1.2,-1,-0.8,-0.6,-0.4,-0.2,0,0.2,0.4],"labels":false,"domain":false,"title":null}}}},
{"data":{"name":"B"},"transform":[{"filter":"datum.p=='iv'"}],"mark":"line","encoding":{
"x":{"field":"t","type":"quantitative","scale":{"domain":[0,30],"nice":false},"axis":{"tickCount":30,"labels":false,"title":"(iv)","titleX":-44,"titleY":-53}},
"y":{"field":"v","type":"quantitative","scale":{"domain":[-2,0.4],"nice":false,"zero":false},"axis":{"orient":"left","values":[-2,-1,0],"labelExpr":"abs(datum.value)<0.001?'0':format(datum.value,'d')","title":"φ","titleAngle":0,"titleX":-32,"titleY":33}},
"color":{"field":"s","type":"nominal","scale":{"domain":["0.4","0.8"],"range":["#000000","#d7262b"]},"legend":null},
"strokeDash":{"field":"s","type":"nominal","scale":{"domain":["0.4","0.8"],"range":[[1,0],[11,4,2,4]]},"legend":null},
"strokeWidth":{"condition":{"test":"datum.s=='0.4'","value":1},"value":1.7}}}]},
{"width":232,"height":70,"resolve":{"axis":{"y":"independent"}},"layer":[{"data":{"values":[{}]},"mark":{"type":"rule","color":"black","strokeWidth":1},"encoding":{"y":{"datum":0,"type":"quantitative","axis":{"orient":"left","values":[-1.4,-1.2,-1,-0.8,-0.6,-0.4,-0.2,0,0.2,0.4,0.6,0.8,1,1.2,1.4],"labels":false,"domain":false,"title":null}}}},
{"data":{"name":"B"},"transform":[{"filter":"datum.p=='v'"}],"mark":"line","encoding":{
"x":{"field":"t","type":"quantitative","scale":{"domain":[0,30],"nice":false},"axis":{"tickCount":30,"labels":false,"title":"(v)","titleX":-43,"titleY":-63}},
"y":{"field":"v","type":"quantitative","scale":{"domain":[-1.4,1.4],"nice":false,"zero":false},"axis":{"orient":"left","values":[-1,0,1],"labelExpr":"abs(datum.value)<0.001?'0':format(datum.value,'d')","title":"θ","titleAngle":0,"titleX":-32,"titleY":36}},
"color":{"field":"s","type":"nominal","scale":{"domain":["0.4","0.8"],"range":["#000000","#d7262b"]},"legend":null},
"strokeDash":{"field":"s","type":"nominal","scale":{"domain":["0.4","0.8"],"range":[[1,0],[11,4,2,4]]},"legend":null},
"strokeWidth":{"condition":{"test":"datum.s=='0.4'","value":1},"value":1.7}}}]},
{"width":232,"height":62,"resolve":{"axis":{"y":"independent"}},"layer":[{"data":{"values":[{}]},"mark":{"type":"rule","color":"black","strokeWidth":1},"encoding":{"y":{"datum":0,"type":"quantitative","axis":{"orient":"left","values":[-0.4,-0.2,0,0.2,0.4,0.6,0.8,1,1.2,1.4,1.6,1.8,2],"labels":false,"domain":false,"title":null}}}},
{"data":{"name":"B"},"transform":[{"filter":"datum.p=='vi'"}],"mark":"line","encoding":{
"x":{"field":"t","type":"quantitative","scale":{"domain":[0,30],"nice":false},"axis":{"tickCount":30,"labelExpr":"datum.value % 5 == 0 ? datum.label : ''","title":"t/T","titleX":116,"titleY":28,"titleFontStyle":"italic","titleFontSize":16}},
"y":{"field":"v","type":"quantitative","scale":{"domain":[-0.4,2],"nice":false,"zero":false},"axis":{"orient":"left","values":[0,1,2],"labelExpr":"abs(datum.value)<0.001?'0':format(datum.value,'d')","title":["(vi)","ψ"],"titleAngle":0,"titleX":-38,"titleY":0,"titleLineHeight":30,"titleFontStyle":"normal"}},
"color":{"field":"s","type":"nominal","scale":{"domain":["0.4","0.8"],"range":["#000000","#d7262b"]},"legend":null},
"strokeDash":{"field":"s","type":"nominal","scale":{"domain":["0.4","0.8"],"range":[[1,0],[11,4,2,4]]},"legend":null},
"strokeWidth":{"condition":{"test":"datum.s=='0.4'","value":1},"value":1.7}}}]}
]},
{"spacing":30,"bounds":"flush","resolve":{"scale":{"color":"independent","strokeDash":"independent"},"legend":{"color":"independent","strokeDash":"independent"}},
"vconcat":[
{"width":261,"height":44,"resolve":{"axis":{"y":"independent"}},"layer":[{"data":{"values":[{}]},"mark":{"type":"rule","color":"black","strokeWidth":1},"encoding":{"y":{"datum":0,"type":"quantitative","axis":{"orient":"left","values":[-0.2,-0.15,-0.1,-0.05,0,0.05,0.1,0.15,0.2],"labels":false,"domain":false,"title":null}}}},
{"data":{"name":"D"},"transform":[{"filter":"datum.p=='i'"}],"mark":"line","encoding":{
"x":{"field":"t","type":"quantitative","scale":{"domain":[0,30],"nice":false},"axis":{"tickCount":30,"labels":false,"title":["(d)","(i)"],"titleLineHeight":20,"titleX":-46,"titleY":-65}},
"y":{"field":"v","type":"quantitative","scale":{"domain":[-0.2,0.2],"nice":false,"zero":false},"axis":{"orient":"left","values":[-0.2,0,0.2],"labelExpr":"abs(datum.value)<0.001?'0':format(datum.value,'.1f')","title":"uE/U","titleAngle":270,"titleX":-49,"titleY":22}},
"color":{"field":"s","type":"nominal","scale":{"domain":["0.4","0.8"],"range":["#000000","#d7262b"]},"legend":{"orient":"none","legendX":112,"legendY":-45.5,"clipHeight":17,"rowPadding":2,"title":null,"labelExpr":"'φ(0) = '+datum.label","symbolSize":4624,"labelOffset":12}},
"strokeDash":{"field":"s","type":"nominal","scale":{"domain":["0.4","0.8"],"range":[[1,0],[11,4,2,4]]},"legend":{"orient":"none","legendX":112,"legendY":-45.5,"clipHeight":17,"rowPadding":2,"title":null,"labelExpr":"'φ(0) = '+datum.label","symbolSize":4624,"labelOffset":12}},
"strokeWidth":{"condition":{"test":"datum.s=='0.4'","value":1},"value":1.7}}}]},
{"width":261,"height":45,"resolve":{"axis":{"y":"independent"}},"layer":[{"data":{"values":[{}]},"mark":{"type":"rule","color":"black","strokeWidth":1},"encoding":{"y":{"datum":0,"type":"quantitative","axis":{"orient":"left","values":[-0.1,-0.05,0,0.05,0.1,0.15,0.2,0.25,0.3],"labels":false,"domain":false,"title":null}}}},
{"data":{"name":"D"},"transform":[{"filter":"datum.p=='ii'"}],"mark":"line","encoding":{
"x":{"field":"t","type":"quantitative","scale":{"domain":[0,30],"nice":false},"axis":{"tickCount":30,"labels":false,"title":"(ii)","titleX":-46,"titleY":-46}},
"y":{"field":"v","type":"quantitative","scale":{"domain":[-0.1,0.3],"nice":false,"zero":false},"axis":{"orient":"left","values":[0,0.2],"labelExpr":"abs(datum.value)<0.001?'0':format(datum.value,'.1f')","title":"vE/U","titleAngle":270,"titleX":-47,"titleY":37}},
"color":{"field":"s","type":"nominal","scale":{"domain":["0.4","0.8"],"range":["#000000","#d7262b"]},"legend":null},
"strokeDash":{"field":"s","type":"nominal","scale":{"domain":["0.4","0.8"],"range":[[1,0],[11,4,2,4]]},"legend":null},
"strokeWidth":{"condition":{"test":"datum.s=='0.4'","value":1},"value":1.7}}}]},
{"width":261,"height":46,"resolve":{"axis":{"y":"independent"}},"layer":[{"data":{"values":[{}]},"mark":{"type":"rule","color":"black","strokeWidth":1},"encoding":{"y":{"datum":0,"type":"quantitative","axis":{"orient":"left","values":[-0.2,-0.15,-0.1,-0.05,0,0.05,0.1,0.15,0.2],"labels":false,"domain":false,"title":null}}}},
{"data":{"name":"D"},"transform":[{"filter":"datum.p=='iii'"}],"mark":"line","encoding":{
"x":{"field":"t","type":"quantitative","scale":{"domain":[0,30],"nice":false},"axis":{"tickCount":30,"labels":false,"title":"(iii)","titleX":-44,"titleY":-47}},
"y":{"field":"v","type":"quantitative","scale":{"domain":[-0.2,0.2],"nice":false,"zero":false},"axis":{"orient":"left","values":[-0.2,0,0.2],"labelExpr":"abs(datum.value)<0.001?'0':format(datum.value,'.1f')","title":"wE/U","titleAngle":270,"titleX":-41,"titleY":29}},
"color":{"field":"s","type":"nominal","scale":{"domain":["0.4","0.8"],"range":["#000000","#d7262b"]},"legend":null},
"strokeDash":{"field":"s","type":"nominal","scale":{"domain":["0.4","0.8"],"range":[[1,0],[11,4,2,4]]},"legend":null},
"strokeWidth":{"condition":{"test":"datum.s=='0.4'","value":1},"value":1.7}}}]},
{"width":261,"height":64,"resolve":{"axis":{"y":"independent"}},"layer":[{"data":{"values":[{}]},"mark":{"type":"rule","color":"black","strokeWidth":1},"encoding":{"y":{"datum":0,"type":"quantitative","axis":{"orient":"left","values":[-0.4,-0.2,0,0.2,0.4,0.6,0.8,1,1.2,1.4,1.6,1.8,2],"labels":false,"domain":false,"title":null}}}},
{"data":{"name":"D"},"transform":[{"filter":"datum.p=='iv'"}],"mark":"line","encoding":{
"x":{"field":"t","type":"quantitative","scale":{"domain":[0,30],"nice":false},"axis":{"tickCount":30,"labels":false,"title":"(iv)","titleX":-44,"titleY":-62}},
"y":{"field":"v","type":"quantitative","scale":{"domain":[-0.4,2],"nice":false,"zero":false},"axis":{"orient":"left","values":[0,1,2],"labelExpr":"abs(datum.value)<0.001?'0':format(datum.value,'d')","title":"φ","titleAngle":0,"titleX":-37,"titleY":34}},
"color":{"field":"s","type":"nominal","scale":{"domain":["0.4","0.8"],"range":["#000000","#d7262b"]},"legend":null},
"strokeDash":{"field":"s","type":"nominal","scale":{"domain":["0.4","0.8"],"range":[[1,0],[11,4,2,4]]},"legend":null},
"strokeWidth":{"condition":{"test":"datum.s=='0.4'","value":1},"value":1.7}}}]},
{"width":261,"height":57,"resolve":{"axis":{"y":"independent"}},"layer":[{"data":{"values":[{}]},"mark":{"type":"rule","color":"black","strokeWidth":1},"encoding":{"y":{"datum":0,"type":"quantitative","axis":{"orient":"left","values":[-1,-0.8,-0.6,-0.4,-0.2,0,0.2,0.4,0.6,0.8,1],"labels":false,"domain":false,"title":null}}}},
{"data":{"name":"D"},"transform":[{"filter":"datum.p=='v'"}],"mark":"line","encoding":{
"x":{"field":"t","type":"quantitative","scale":{"domain":[0,30],"nice":false},"axis":{"tickCount":30,"labels":false,"title":"(v)","titleX":-47,"titleY":-55}},
"y":{"field":"v","type":"quantitative","scale":{"domain":[-1,1],"nice":false,"zero":false},"axis":{"orient":"left","values":[-1,0,1],"labelExpr":"abs(datum.value)<0.001?'0':format(datum.value,'d')","title":"θ","titleAngle":0,"titleX":-37,"titleY":28}},
"color":{"field":"s","type":"nominal","scale":{"domain":["0.4","0.8"],"range":["#000000","#d7262b"]},"legend":null},
"strokeDash":{"field":"s","type":"nominal","scale":{"domain":["0.4","0.8"],"range":[[1,0],[11,4,2,4]]},"legend":null},
"strokeWidth":{"condition":{"test":"datum.s=='0.4'","value":1},"value":1.7}}}]},
{"width":261,"height":64,"resolve":{"axis":{"y":"independent"}},"layer":[{"data":{"values":[{}]},"mark":{"type":"rule","color":"black","strokeWidth":1},"encoding":{"y":{"datum":0,"type":"quantitative","axis":{"orient":"left","values":[-1,-0.8,-0.6,-0.4,-0.2,0,0.2,0.4,0.6,0.8,1],"labels":false,"domain":false,"title":null}}}},
{"data":{"name":"D"},"transform":[{"filter":"datum.p=='vi'"}],"mark":"line","encoding":{
"x":{"field":"t","type":"quantitative","scale":{"domain":[0,30],"nice":false},"axis":{"tickCount":30,"labelExpr":"datum.value % 5 == 0 ? datum.label : ''","labelPadding":9,"title":"t/T","titleX":130,"titleY":31,"titleFontStyle":"italic","titleFontSize":16}},
"y":{"field":"v","type":"quantitative","scale":{"domain":[-1,1],"nice":false,"zero":false},"axis":{"orient":"left","values":[-1,0,1],"labelExpr":"abs(datum.value)<0.001?'0':format(datum.value,'d')","title":["(vi)","ψ"],"titleAngle":0,"titleX":-41,"titleY":3,"titleLineHeight":27,"titleFontStyle":"normal"}},
"color":{"field":"s","type":"nominal","scale":{"domain":["0.4","0.8"],"range":["#000000","#d7262b"]},"legend":null},
"strokeDash":{"field":"s","type":"nominal","scale":{"domain":["0.4","0.8"],"range":[[1,0],[11,4,2,4]]},"legend":null},
"strokeWidth":{"condition":{"test":"datum.s=='0.4'","value":1},"value":1.7}}}]}
]}
]}
]
}
